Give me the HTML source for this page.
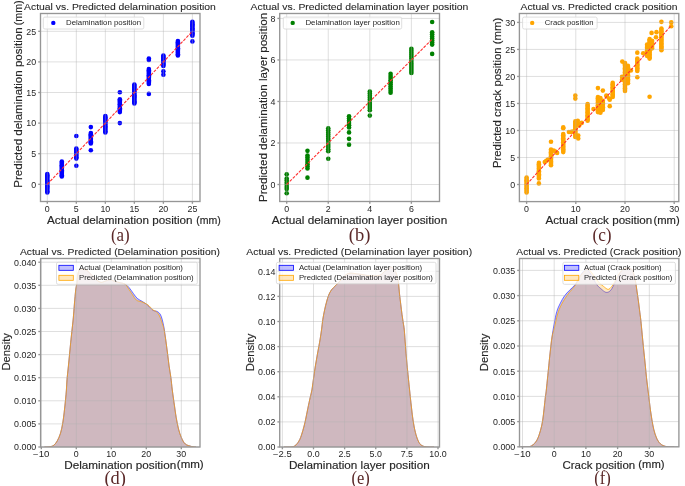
<!DOCTYPE html>
<html><head><meta charset="utf-8"><style>
html,body{margin:0;padding:0;background:#fff;width:685px;height:486px;overflow:hidden}
svg{display:block;will-change:transform}
text{font-family:"Liberation Sans",sans-serif;stroke:currentColor;stroke-width:0}
</style></head><body>
<svg width="685" height="486" viewBox="0 0 685 486">
<rect width="685" height="486" fill="#ffffff"/>
<g fill="#0000ff">
<circle cx="47.30" cy="192.50" r="2.3"/>
<circle cx="47.30" cy="191.27" r="2.3"/>
<circle cx="47.30" cy="190.04" r="2.3"/>
<circle cx="47.30" cy="188.80" r="2.3"/>
<circle cx="47.30" cy="187.57" r="2.3"/>
<circle cx="47.30" cy="186.34" r="2.3"/>
<circle cx="47.30" cy="185.11" r="2.3"/>
<circle cx="47.30" cy="183.88" r="2.3"/>
<circle cx="47.30" cy="182.64" r="2.3"/>
<circle cx="47.30" cy="181.41" r="2.3"/>
<circle cx="47.30" cy="180.18" r="2.3"/>
<circle cx="47.30" cy="178.95" r="2.3"/>
<circle cx="47.30" cy="177.71" r="2.3"/>
<circle cx="47.30" cy="176.48" r="2.3"/>
<circle cx="47.30" cy="175.25" r="2.3"/>
<circle cx="47.30" cy="174.02" r="2.3"/>
<circle cx="61.81" cy="176.53" r="2.3"/>
<circle cx="61.81" cy="175.28" r="2.3"/>
<circle cx="61.81" cy="174.03" r="2.3"/>
<circle cx="61.81" cy="172.78" r="2.3"/>
<circle cx="61.81" cy="171.53" r="2.3"/>
<circle cx="61.81" cy="170.28" r="2.3"/>
<circle cx="61.81" cy="169.03" r="2.3"/>
<circle cx="61.81" cy="167.78" r="2.3"/>
<circle cx="61.81" cy="166.53" r="2.3"/>
<circle cx="61.81" cy="165.28" r="2.3"/>
<circle cx="61.81" cy="164.03" r="2.3"/>
<circle cx="61.81" cy="162.78" r="2.3"/>
<circle cx="61.81" cy="161.53" r="2.3"/>
<circle cx="76.32" cy="158.60" r="2.3"/>
<circle cx="76.32" cy="157.33" r="2.3"/>
<circle cx="76.32" cy="156.07" r="2.3"/>
<circle cx="76.32" cy="154.81" r="2.3"/>
<circle cx="76.32" cy="153.55" r="2.3"/>
<circle cx="76.32" cy="152.28" r="2.3"/>
<circle cx="76.32" cy="151.02" r="2.3"/>
<circle cx="76.32" cy="149.76" r="2.3"/>
<circle cx="76.32" cy="148.50" r="2.3"/>
<circle cx="76.32" cy="135.95" r="2.3"/>
<circle cx="76.32" cy="165.70" r="2.3"/>
<circle cx="90.83" cy="143.48" r="2.3"/>
<circle cx="90.83" cy="142.32" r="2.3"/>
<circle cx="90.83" cy="141.15" r="2.3"/>
<circle cx="90.83" cy="139.99" r="2.3"/>
<circle cx="90.83" cy="138.83" r="2.3"/>
<circle cx="90.83" cy="137.67" r="2.3"/>
<circle cx="90.83" cy="136.50" r="2.3"/>
<circle cx="90.83" cy="135.34" r="2.3"/>
<circle cx="90.83" cy="134.18" r="2.3"/>
<circle cx="90.83" cy="133.01" r="2.3"/>
<circle cx="90.83" cy="127.08" r="2.3"/>
<circle cx="90.83" cy="150.21" r="2.3"/>
<circle cx="105.34" cy="132.52" r="2.3"/>
<circle cx="105.34" cy="131.25" r="2.3"/>
<circle cx="105.34" cy="129.98" r="2.3"/>
<circle cx="105.34" cy="128.71" r="2.3"/>
<circle cx="105.34" cy="127.44" r="2.3"/>
<circle cx="105.34" cy="126.17" r="2.3"/>
<circle cx="105.34" cy="124.90" r="2.3"/>
<circle cx="105.34" cy="123.63" r="2.3"/>
<circle cx="105.34" cy="122.36" r="2.3"/>
<circle cx="105.34" cy="121.09" r="2.3"/>
<circle cx="105.34" cy="119.81" r="2.3"/>
<circle cx="105.34" cy="118.54" r="2.3"/>
<circle cx="105.34" cy="117.27" r="2.3"/>
<circle cx="105.34" cy="116.00" r="2.3"/>
<circle cx="119.85" cy="112.08" r="2.3"/>
<circle cx="119.85" cy="110.80" r="2.3"/>
<circle cx="119.85" cy="109.51" r="2.3"/>
<circle cx="119.85" cy="108.23" r="2.3"/>
<circle cx="119.85" cy="106.94" r="2.3"/>
<circle cx="119.85" cy="105.66" r="2.3"/>
<circle cx="119.85" cy="104.37" r="2.3"/>
<circle cx="119.85" cy="103.09" r="2.3"/>
<circle cx="119.85" cy="101.80" r="2.3"/>
<circle cx="119.85" cy="100.52" r="2.3"/>
<circle cx="119.85" cy="99.23" r="2.3"/>
<circle cx="119.85" cy="92.19" r="2.3"/>
<circle cx="119.85" cy="123.10" r="2.3"/>
<circle cx="134.36" cy="103.52" r="2.3"/>
<circle cx="134.36" cy="102.33" r="2.3"/>
<circle cx="134.36" cy="101.14" r="2.3"/>
<circle cx="134.36" cy="99.96" r="2.3"/>
<circle cx="134.36" cy="98.77" r="2.3"/>
<circle cx="134.36" cy="97.59" r="2.3"/>
<circle cx="134.36" cy="96.40" r="2.3"/>
<circle cx="134.36" cy="95.22" r="2.3"/>
<circle cx="134.36" cy="94.03" r="2.3"/>
<circle cx="134.36" cy="92.84" r="2.3"/>
<circle cx="134.36" cy="91.66" r="2.3"/>
<circle cx="134.36" cy="90.47" r="2.3"/>
<circle cx="134.36" cy="89.29" r="2.3"/>
<circle cx="134.36" cy="88.10" r="2.3"/>
<circle cx="134.36" cy="86.92" r="2.3"/>
<circle cx="134.36" cy="85.73" r="2.3"/>
<circle cx="134.36" cy="84.54" r="2.3"/>
<circle cx="148.87" cy="83.99" r="2.3"/>
<circle cx="148.87" cy="82.74" r="2.3"/>
<circle cx="148.87" cy="81.49" r="2.3"/>
<circle cx="148.87" cy="80.24" r="2.3"/>
<circle cx="148.87" cy="79.00" r="2.3"/>
<circle cx="148.87" cy="77.75" r="2.3"/>
<circle cx="148.87" cy="76.50" r="2.3"/>
<circle cx="148.87" cy="75.25" r="2.3"/>
<circle cx="148.87" cy="74.00" r="2.3"/>
<circle cx="148.87" cy="72.75" r="2.3"/>
<circle cx="148.87" cy="71.50" r="2.3"/>
<circle cx="148.87" cy="70.25" r="2.3"/>
<circle cx="148.87" cy="69.00" r="2.3"/>
<circle cx="148.87" cy="58.53" r="2.3"/>
<circle cx="148.87" cy="60.06" r="2.3"/>
<circle cx="148.87" cy="93.91" r="2.3"/>
<circle cx="163.38" cy="66.00" r="2.3"/>
<circle cx="163.38" cy="64.83" r="2.3"/>
<circle cx="163.38" cy="63.66" r="2.3"/>
<circle cx="163.38" cy="62.49" r="2.3"/>
<circle cx="163.38" cy="61.32" r="2.3"/>
<circle cx="163.38" cy="60.15" r="2.3"/>
<circle cx="163.38" cy="58.98" r="2.3"/>
<circle cx="163.38" cy="57.81" r="2.3"/>
<circle cx="163.38" cy="56.64" r="2.3"/>
<circle cx="163.38" cy="55.47" r="2.3"/>
<circle cx="163.38" cy="71.32" r="2.3"/>
<circle cx="163.38" cy="74.75" r="2.3"/>
<circle cx="177.89" cy="55.47" r="2.3"/>
<circle cx="177.89" cy="54.28" r="2.3"/>
<circle cx="177.89" cy="53.08" r="2.3"/>
<circle cx="177.89" cy="51.88" r="2.3"/>
<circle cx="177.89" cy="50.68" r="2.3"/>
<circle cx="177.89" cy="49.48" r="2.3"/>
<circle cx="177.89" cy="48.28" r="2.3"/>
<circle cx="177.89" cy="47.08" r="2.3"/>
<circle cx="177.89" cy="45.89" r="2.3"/>
<circle cx="177.89" cy="44.69" r="2.3"/>
<circle cx="177.89" cy="43.49" r="2.3"/>
<circle cx="177.89" cy="42.29" r="2.3"/>
<circle cx="177.89" cy="41.09" r="2.3"/>
<circle cx="192.40" cy="35.71" r="2.3"/>
<circle cx="192.40" cy="34.44" r="2.3"/>
<circle cx="192.40" cy="33.18" r="2.3"/>
<circle cx="192.40" cy="31.92" r="2.3"/>
<circle cx="192.40" cy="30.65" r="2.3"/>
<circle cx="192.40" cy="29.39" r="2.3"/>
<circle cx="192.40" cy="28.13" r="2.3"/>
<circle cx="192.40" cy="26.87" r="2.3"/>
<circle cx="192.40" cy="25.60" r="2.3"/>
<circle cx="192.40" cy="24.34" r="2.3"/>
<circle cx="192.40" cy="23.08" r="2.3"/>
<circle cx="192.40" cy="21.81" r="2.3"/>
<circle cx="192.40" cy="41.40" r="2.3"/>
</g>
<g stroke="#b0b0b0" stroke-opacity="0.45" stroke-width="0.9">
<line x1="47.30" y1="13.5" x2="47.30" y2="201.5"/>
<line x1="76.32" y1="13.5" x2="76.32" y2="201.5"/>
<line x1="105.34" y1="13.5" x2="105.34" y2="201.5"/>
<line x1="134.36" y1="13.5" x2="134.36" y2="201.5"/>
<line x1="163.38" y1="13.5" x2="163.38" y2="201.5"/>
<line x1="192.40" y1="13.5" x2="192.40" y2="201.5"/>
<line x1="40.5" y1="184.30" x2="200.0" y2="184.30"/>
<line x1="40.5" y1="153.70" x2="200.0" y2="153.70"/>
<line x1="40.5" y1="123.10" x2="200.0" y2="123.10"/>
<line x1="40.5" y1="92.50" x2="200.0" y2="92.50"/>
<line x1="40.5" y1="61.90" x2="200.0" y2="61.90"/>
<line x1="40.5" y1="31.30" x2="200.0" y2="31.30"/>
</g>
<line x1="47.30" y1="184.30" x2="192.40" y2="31.30" stroke="#ff3030" stroke-width="1.1" stroke-dasharray="3.0 1.3"/>
<rect x="40.5" y="13.5" width="159.50" height="188.00" fill="none" stroke="#969696" stroke-width="1.35"/>
<g stroke="#969696" stroke-width="1.35">
<line x1="47.30" y1="201.5" x2="47.30" y2="203.80"/>
<line x1="76.32" y1="201.5" x2="76.32" y2="203.80"/>
<line x1="105.34" y1="201.5" x2="105.34" y2="203.80"/>
<line x1="134.36" y1="201.5" x2="134.36" y2="203.80"/>
<line x1="163.38" y1="201.5" x2="163.38" y2="203.80"/>
<line x1="192.40" y1="201.5" x2="192.40" y2="203.80"/>
<line x1="40.5" y1="184.30" x2="38.20" y2="184.30"/>
<line x1="40.5" y1="153.70" x2="38.20" y2="153.70"/>
<line x1="40.5" y1="123.10" x2="38.20" y2="123.10"/>
<line x1="40.5" y1="92.50" x2="38.20" y2="92.50"/>
<line x1="40.5" y1="61.90" x2="38.20" y2="61.90"/>
<line x1="40.5" y1="31.30" x2="38.20" y2="31.30"/>
</g>
<text x="47.30" y="211.80" font-size="8.14" text-anchor="middle" fill="#262626" color="#262626" textLength="4.93" lengthAdjust="spacingAndGlyphs">0</text>
<text x="76.32" y="211.80" font-size="8.14" text-anchor="middle" fill="#262626" color="#262626" textLength="4.93" lengthAdjust="spacingAndGlyphs">5</text>
<text x="105.34" y="211.80" font-size="8.14" text-anchor="middle" fill="#262626" color="#262626" textLength="9.86" lengthAdjust="spacingAndGlyphs">10</text>
<text x="134.36" y="211.80" font-size="8.14" text-anchor="middle" fill="#262626" color="#262626" textLength="9.86" lengthAdjust="spacingAndGlyphs">15</text>
<text x="163.38" y="211.80" font-size="8.14" text-anchor="middle" fill="#262626" color="#262626" textLength="9.86" lengthAdjust="spacingAndGlyphs">20</text>
<text x="192.40" y="211.80" font-size="8.14" text-anchor="middle" fill="#262626" color="#262626" textLength="9.86" lengthAdjust="spacingAndGlyphs">25</text>
<text x="36.20" y="187.60" font-size="8.14" text-anchor="end" fill="#262626" color="#262626" textLength="4.93" lengthAdjust="spacingAndGlyphs">0</text>
<text x="36.20" y="157.00" font-size="8.14" text-anchor="end" fill="#262626" color="#262626" textLength="4.93" lengthAdjust="spacingAndGlyphs">5</text>
<text x="36.20" y="126.40" font-size="8.14" text-anchor="end" fill="#262626" color="#262626" textLength="9.86" lengthAdjust="spacingAndGlyphs">10</text>
<text x="36.20" y="95.80" font-size="8.14" text-anchor="end" fill="#262626" color="#262626" textLength="9.86" lengthAdjust="spacingAndGlyphs">15</text>
<text x="36.20" y="65.20" font-size="8.14" text-anchor="end" fill="#262626" color="#262626" textLength="9.86" lengthAdjust="spacingAndGlyphs">20</text>
<text x="36.20" y="34.60" font-size="8.14" text-anchor="end" fill="#262626" color="#262626" textLength="9.86" lengthAdjust="spacingAndGlyphs">25</text>
<g fill="#008000">
<circle cx="286.70" cy="189.07" r="2.3"/>
<circle cx="286.70" cy="186.95" r="2.3"/>
<circle cx="286.70" cy="184.83" r="2.3"/>
<circle cx="286.70" cy="182.71" r="2.3"/>
<circle cx="286.70" cy="180.60" r="2.3"/>
<circle cx="286.70" cy="178.48" r="2.3"/>
<circle cx="286.70" cy="174.33" r="2.3"/>
<circle cx="286.70" cy="193.22" r="2.3"/>
<circle cx="307.48" cy="168.51" r="2.3"/>
<circle cx="307.48" cy="166.34" r="2.3"/>
<circle cx="307.48" cy="164.16" r="2.3"/>
<circle cx="307.48" cy="161.98" r="2.3"/>
<circle cx="307.48" cy="159.80" r="2.3"/>
<circle cx="307.48" cy="157.62" r="2.3"/>
<circle cx="307.48" cy="155.44" r="2.3"/>
<circle cx="307.48" cy="150.87" r="2.3"/>
<circle cx="307.48" cy="177.65" r="2.3"/>
<circle cx="328.26" cy="151.28" r="2.3"/>
<circle cx="328.26" cy="149.19" r="2.3"/>
<circle cx="328.26" cy="147.09" r="2.3"/>
<circle cx="328.26" cy="145.00" r="2.3"/>
<circle cx="328.26" cy="142.90" r="2.3"/>
<circle cx="328.26" cy="140.81" r="2.3"/>
<circle cx="328.26" cy="138.71" r="2.3"/>
<circle cx="328.26" cy="136.62" r="2.3"/>
<circle cx="328.26" cy="134.53" r="2.3"/>
<circle cx="328.26" cy="132.43" r="2.3"/>
<circle cx="328.26" cy="130.34" r="2.3"/>
<circle cx="328.26" cy="128.24" r="2.3"/>
<circle cx="328.26" cy="158.76" r="2.3"/>
<circle cx="349.04" cy="127.41" r="2.3"/>
<circle cx="349.04" cy="125.17" r="2.3"/>
<circle cx="349.04" cy="122.93" r="2.3"/>
<circle cx="349.04" cy="120.68" r="2.3"/>
<circle cx="349.04" cy="118.44" r="2.3"/>
<circle cx="349.04" cy="116.20" r="2.3"/>
<circle cx="349.04" cy="132.39" r="2.3"/>
<circle cx="349.04" cy="138.83" r="2.3"/>
<circle cx="349.04" cy="144.64" r="2.3"/>
<circle cx="369.82" cy="110.18" r="2.3"/>
<circle cx="369.82" cy="108.10" r="2.3"/>
<circle cx="369.82" cy="106.03" r="2.3"/>
<circle cx="369.82" cy="103.95" r="2.3"/>
<circle cx="369.82" cy="101.88" r="2.3"/>
<circle cx="369.82" cy="99.80" r="2.3"/>
<circle cx="369.82" cy="97.72" r="2.3"/>
<circle cx="369.82" cy="95.65" r="2.3"/>
<circle cx="369.82" cy="93.57" r="2.3"/>
<circle cx="369.82" cy="91.50" r="2.3"/>
<circle cx="369.82" cy="115.58" r="2.3"/>
<circle cx="390.60" cy="92.74" r="2.3"/>
<circle cx="390.60" cy="90.64" r="2.3"/>
<circle cx="390.60" cy="88.54" r="2.3"/>
<circle cx="390.60" cy="86.44" r="2.3"/>
<circle cx="390.60" cy="84.34" r="2.3"/>
<circle cx="390.60" cy="82.25" r="2.3"/>
<circle cx="390.60" cy="80.15" r="2.3"/>
<circle cx="390.60" cy="78.05" r="2.3"/>
<circle cx="390.60" cy="75.95" r="2.3"/>
<circle cx="390.60" cy="73.85" r="2.3"/>
<circle cx="411.38" cy="73.02" r="2.3"/>
<circle cx="411.38" cy="70.99" r="2.3"/>
<circle cx="411.38" cy="68.97" r="2.3"/>
<circle cx="411.38" cy="66.95" r="2.3"/>
<circle cx="411.38" cy="64.92" r="2.3"/>
<circle cx="411.38" cy="62.90" r="2.3"/>
<circle cx="411.38" cy="60.87" r="2.3"/>
<circle cx="411.38" cy="58.85" r="2.3"/>
<circle cx="411.38" cy="56.83" r="2.3"/>
<circle cx="411.38" cy="54.80" r="2.3"/>
<circle cx="411.38" cy="52.78" r="2.3"/>
<circle cx="411.38" cy="50.75" r="2.3"/>
<circle cx="411.38" cy="48.73" r="2.3"/>
<circle cx="432.16" cy="44.58" r="2.3"/>
<circle cx="432.16" cy="42.54" r="2.3"/>
<circle cx="432.16" cy="40.49" r="2.3"/>
<circle cx="432.16" cy="38.45" r="2.3"/>
<circle cx="432.16" cy="36.41" r="2.3"/>
<circle cx="432.16" cy="34.37" r="2.3"/>
<circle cx="432.16" cy="32.33" r="2.3"/>
<circle cx="432.16" cy="21.95" r="2.3"/>
<circle cx="432.16" cy="53.92" r="2.3"/>
</g>
<g stroke="#b0b0b0" stroke-opacity="0.45" stroke-width="0.9">
<line x1="286.70" y1="13.5" x2="286.70" y2="201.5"/>
<line x1="328.26" y1="13.5" x2="328.26" y2="201.5"/>
<line x1="369.82" y1="13.5" x2="369.82" y2="201.5"/>
<line x1="411.38" y1="13.5" x2="411.38" y2="201.5"/>
<line x1="279.7" y1="184.50" x2="439.5" y2="184.50"/>
<line x1="279.7" y1="142.98" x2="439.5" y2="142.98"/>
<line x1="279.7" y1="101.46" x2="439.5" y2="101.46"/>
<line x1="279.7" y1="59.94" x2="439.5" y2="59.94"/>
<line x1="279.7" y1="18.42" x2="439.5" y2="18.42"/>
</g>
<line x1="286.70" y1="184.50" x2="432.16" y2="39.18" stroke="#ff3030" stroke-width="1.1" stroke-dasharray="3.0 1.3"/>
<rect x="279.7" y="13.5" width="159.80" height="188.00" fill="none" stroke="#969696" stroke-width="1.35"/>
<g stroke="#969696" stroke-width="1.35">
<line x1="286.70" y1="201.5" x2="286.70" y2="203.80"/>
<line x1="328.26" y1="201.5" x2="328.26" y2="203.80"/>
<line x1="369.82" y1="201.5" x2="369.82" y2="203.80"/>
<line x1="411.38" y1="201.5" x2="411.38" y2="203.80"/>
<line x1="279.7" y1="184.50" x2="277.40" y2="184.50"/>
<line x1="279.7" y1="142.98" x2="277.40" y2="142.98"/>
<line x1="279.7" y1="101.46" x2="277.40" y2="101.46"/>
<line x1="279.7" y1="59.94" x2="277.40" y2="59.94"/>
<line x1="279.7" y1="18.42" x2="277.40" y2="18.42"/>
</g>
<text x="286.70" y="211.80" font-size="8.14" text-anchor="middle" fill="#262626" color="#262626" textLength="4.93" lengthAdjust="spacingAndGlyphs">0</text>
<text x="328.26" y="211.80" font-size="8.14" text-anchor="middle" fill="#262626" color="#262626" textLength="4.93" lengthAdjust="spacingAndGlyphs">2</text>
<text x="369.82" y="211.80" font-size="8.14" text-anchor="middle" fill="#262626" color="#262626" textLength="4.93" lengthAdjust="spacingAndGlyphs">4</text>
<text x="411.38" y="211.80" font-size="8.14" text-anchor="middle" fill="#262626" color="#262626" textLength="4.93" lengthAdjust="spacingAndGlyphs">6</text>
<text x="275.40" y="187.80" font-size="8.14" text-anchor="end" fill="#262626" color="#262626" textLength="4.93" lengthAdjust="spacingAndGlyphs">0</text>
<text x="275.40" y="146.28" font-size="8.14" text-anchor="end" fill="#262626" color="#262626" textLength="4.93" lengthAdjust="spacingAndGlyphs">2</text>
<text x="275.40" y="104.76" font-size="8.14" text-anchor="end" fill="#262626" color="#262626" textLength="4.93" lengthAdjust="spacingAndGlyphs">4</text>
<text x="275.40" y="63.24" font-size="8.14" text-anchor="end" fill="#262626" color="#262626" textLength="4.93" lengthAdjust="spacingAndGlyphs">6</text>
<text x="275.40" y="21.72" font-size="8.14" text-anchor="end" fill="#262626" color="#262626" textLength="4.93" lengthAdjust="spacingAndGlyphs">8</text>
<g fill="#ffa500">
<circle cx="526.60" cy="192.39" r="2.3"/>
<circle cx="526.60" cy="191.04" r="2.3"/>
<circle cx="526.60" cy="189.70" r="2.3"/>
<circle cx="526.60" cy="188.35" r="2.3"/>
<circle cx="526.60" cy="187.01" r="2.3"/>
<circle cx="526.60" cy="185.66" r="2.3"/>
<circle cx="526.60" cy="184.31" r="2.3"/>
<circle cx="526.60" cy="182.97" r="2.3"/>
<circle cx="526.60" cy="181.62" r="2.3"/>
<circle cx="526.60" cy="180.28" r="2.3"/>
<circle cx="526.60" cy="178.93" r="2.3"/>
<circle cx="526.60" cy="177.58" r="2.3"/>
<circle cx="538.90" cy="178.39" r="2.3"/>
<circle cx="538.90" cy="176.98" r="2.3"/>
<circle cx="538.90" cy="175.58" r="2.3"/>
<circle cx="538.90" cy="174.17" r="2.3"/>
<circle cx="538.90" cy="172.76" r="2.3"/>
<circle cx="538.90" cy="171.35" r="2.3"/>
<circle cx="538.90" cy="169.94" r="2.3"/>
<circle cx="538.90" cy="168.53" r="2.3"/>
<circle cx="538.90" cy="167.12" r="2.3"/>
<circle cx="538.90" cy="165.71" r="2.3"/>
<circle cx="538.90" cy="164.30" r="2.3"/>
<circle cx="538.90" cy="162.89" r="2.3"/>
<circle cx="538.90" cy="183.42" r="2.3"/>
<circle cx="544.80" cy="162.02" r="2.3"/>
<circle cx="548.00" cy="159.48" r="2.3"/>
<circle cx="546.28" cy="160.73" r="2.3"/>
<circle cx="551.00" cy="165.32" r="2.3"/>
<circle cx="551.00" cy="164.01" r="2.3"/>
<circle cx="551.00" cy="162.70" r="2.3"/>
<circle cx="551.00" cy="161.39" r="2.3"/>
<circle cx="551.00" cy="160.08" r="2.3"/>
<circle cx="551.00" cy="158.77" r="2.3"/>
<circle cx="551.00" cy="157.46" r="2.3"/>
<circle cx="551.00" cy="156.15" r="2.3"/>
<circle cx="551.00" cy="154.84" r="2.3"/>
<circle cx="551.00" cy="153.53" r="2.3"/>
<circle cx="551.00" cy="152.22" r="2.3"/>
<circle cx="551.00" cy="150.91" r="2.3"/>
<circle cx="551.00" cy="149.60" r="2.3"/>
<circle cx="551.00" cy="141.71" r="2.3"/>
<circle cx="553.66" cy="150.46" r="2.3"/>
<circle cx="555.38" cy="151.54" r="2.3"/>
<circle cx="557.10" cy="152.89" r="2.3"/>
<circle cx="563.25" cy="152.08" r="2.3"/>
<circle cx="563.25" cy="150.69" r="2.3"/>
<circle cx="563.25" cy="149.30" r="2.3"/>
<circle cx="563.25" cy="147.91" r="2.3"/>
<circle cx="563.25" cy="146.51" r="2.3"/>
<circle cx="563.25" cy="145.12" r="2.3"/>
<circle cx="563.25" cy="143.73" r="2.3"/>
<circle cx="563.25" cy="142.34" r="2.3"/>
<circle cx="563.25" cy="140.94" r="2.3"/>
<circle cx="563.25" cy="139.55" r="2.3"/>
<circle cx="563.25" cy="138.16" r="2.3"/>
<circle cx="563.25" cy="136.77" r="2.3"/>
<circle cx="563.25" cy="135.37" r="2.3"/>
<circle cx="563.25" cy="133.98" r="2.3"/>
<circle cx="563.25" cy="127.39" r="2.3"/>
<circle cx="563.25" cy="128.31" r="2.3"/>
<circle cx="568.91" cy="131.93" r="2.3"/>
<circle cx="570.88" cy="131.93" r="2.3"/>
<circle cx="572.36" cy="131.55" r="2.3"/>
<circle cx="575.31" cy="136.95" r="2.3"/>
<circle cx="575.31" cy="135.66" r="2.3"/>
<circle cx="575.31" cy="134.36" r="2.3"/>
<circle cx="575.31" cy="133.06" r="2.3"/>
<circle cx="575.31" cy="131.77" r="2.3"/>
<circle cx="575.31" cy="130.47" r="2.3"/>
<circle cx="575.31" cy="129.17" r="2.3"/>
<circle cx="575.31" cy="127.88" r="2.3"/>
<circle cx="575.31" cy="126.58" r="2.3"/>
<circle cx="575.31" cy="125.28" r="2.3"/>
<circle cx="575.31" cy="123.99" r="2.3"/>
<circle cx="575.31" cy="122.69" r="2.3"/>
<circle cx="575.31" cy="121.39" r="2.3"/>
<circle cx="577.77" cy="120.74" r="2.3"/>
<circle cx="578.75" cy="123.45" r="2.3"/>
<circle cx="579.24" cy="125.61" r="2.3"/>
<circle cx="578.26" cy="135.60" r="2.3"/>
<circle cx="578.26" cy="138.57" r="2.3"/>
<circle cx="581.70" cy="122.91" r="2.3"/>
<circle cx="575.31" cy="95.51" r="2.3"/>
<circle cx="575.31" cy="98.59" r="2.3"/>
<circle cx="587.61" cy="120.74" r="2.3"/>
<circle cx="587.61" cy="119.35" r="2.3"/>
<circle cx="587.61" cy="117.95" r="2.3"/>
<circle cx="587.61" cy="116.56" r="2.3"/>
<circle cx="587.61" cy="115.16" r="2.3"/>
<circle cx="587.61" cy="113.77" r="2.3"/>
<circle cx="587.61" cy="112.37" r="2.3"/>
<circle cx="587.61" cy="110.97" r="2.3"/>
<circle cx="587.61" cy="109.58" r="2.3"/>
<circle cx="587.61" cy="108.18" r="2.3"/>
<circle cx="587.61" cy="106.79" r="2.3"/>
<circle cx="587.61" cy="105.39" r="2.3"/>
<circle cx="587.61" cy="104.00" r="2.3"/>
<circle cx="593.51" cy="109.07" r="2.3"/>
<circle cx="597.94" cy="112.10" r="2.3"/>
<circle cx="597.94" cy="110.72" r="2.3"/>
<circle cx="597.94" cy="109.35" r="2.3"/>
<circle cx="597.94" cy="107.97" r="2.3"/>
<circle cx="597.94" cy="106.60" r="2.3"/>
<circle cx="597.94" cy="105.22" r="2.3"/>
<circle cx="597.94" cy="103.85" r="2.3"/>
<circle cx="597.94" cy="102.47" r="2.3"/>
<circle cx="597.94" cy="101.10" r="2.3"/>
<circle cx="597.94" cy="99.72" r="2.3"/>
<circle cx="597.94" cy="98.35" r="2.3"/>
<circle cx="597.94" cy="96.97" r="2.3"/>
<circle cx="600.40" cy="112.64" r="2.3"/>
<circle cx="600.40" cy="111.31" r="2.3"/>
<circle cx="600.40" cy="109.99" r="2.3"/>
<circle cx="600.40" cy="108.66" r="2.3"/>
<circle cx="600.40" cy="107.34" r="2.3"/>
<circle cx="600.40" cy="106.01" r="2.3"/>
<circle cx="600.40" cy="104.68" r="2.3"/>
<circle cx="600.40" cy="103.36" r="2.3"/>
<circle cx="600.40" cy="102.03" r="2.3"/>
<circle cx="600.40" cy="100.70" r="2.3"/>
<circle cx="600.40" cy="99.38" r="2.3"/>
<circle cx="600.40" cy="98.05" r="2.3"/>
<circle cx="602.86" cy="109.94" r="2.3"/>
<circle cx="602.86" cy="108.63" r="2.3"/>
<circle cx="602.86" cy="107.31" r="2.3"/>
<circle cx="602.86" cy="106.00" r="2.3"/>
<circle cx="602.86" cy="104.69" r="2.3"/>
<circle cx="602.86" cy="103.38" r="2.3"/>
<circle cx="602.86" cy="102.07" r="2.3"/>
<circle cx="602.86" cy="100.75" r="2.3"/>
<circle cx="597.94" cy="88.11" r="2.3"/>
<circle cx="602.86" cy="90.60" r="2.3"/>
<circle cx="606.30" cy="95.51" r="2.3"/>
<circle cx="606.80" cy="96.43" r="2.3"/>
<circle cx="609.26" cy="98.59" r="2.3"/>
<circle cx="609.75" cy="99.67" r="2.3"/>
<circle cx="609.75" cy="106.16" r="2.3"/>
<circle cx="612.70" cy="96.97" r="2.3"/>
<circle cx="612.70" cy="95.57" r="2.3"/>
<circle cx="612.70" cy="94.16" r="2.3"/>
<circle cx="612.70" cy="92.76" r="2.3"/>
<circle cx="612.70" cy="91.35" r="2.3"/>
<circle cx="612.70" cy="89.95" r="2.3"/>
<circle cx="612.70" cy="88.54" r="2.3"/>
<circle cx="612.70" cy="87.14" r="2.3"/>
<circle cx="612.70" cy="85.73" r="2.3"/>
<circle cx="612.70" cy="84.33" r="2.3"/>
<circle cx="612.70" cy="82.92" r="2.3"/>
<circle cx="622.29" cy="61.58" r="2.3"/>
<circle cx="622.05" cy="79.68" r="2.3"/>
<circle cx="622.05" cy="76.71" r="2.3"/>
<circle cx="625.00" cy="91.03" r="2.3"/>
<circle cx="625.00" cy="89.69" r="2.3"/>
<circle cx="625.00" cy="88.35" r="2.3"/>
<circle cx="625.00" cy="87.01" r="2.3"/>
<circle cx="625.00" cy="85.68" r="2.3"/>
<circle cx="625.00" cy="84.34" r="2.3"/>
<circle cx="625.00" cy="83.00" r="2.3"/>
<circle cx="625.00" cy="81.66" r="2.3"/>
<circle cx="625.00" cy="80.33" r="2.3"/>
<circle cx="625.00" cy="78.99" r="2.3"/>
<circle cx="625.00" cy="77.65" r="2.3"/>
<circle cx="625.00" cy="76.31" r="2.3"/>
<circle cx="625.00" cy="74.97" r="2.3"/>
<circle cx="625.00" cy="73.64" r="2.3"/>
<circle cx="625.00" cy="72.30" r="2.3"/>
<circle cx="625.00" cy="70.96" r="2.3"/>
<circle cx="625.00" cy="69.62" r="2.3"/>
<circle cx="625.00" cy="68.28" r="2.3"/>
<circle cx="625.00" cy="66.95" r="2.3"/>
<circle cx="625.00" cy="65.61" r="2.3"/>
<circle cx="625.00" cy="64.27" r="2.3"/>
<circle cx="625.00" cy="62.93" r="2.3"/>
<circle cx="627.95" cy="83.19" r="2.3"/>
<circle cx="627.95" cy="81.86" r="2.3"/>
<circle cx="627.95" cy="80.53" r="2.3"/>
<circle cx="627.95" cy="79.20" r="2.3"/>
<circle cx="627.95" cy="77.87" r="2.3"/>
<circle cx="627.95" cy="76.54" r="2.3"/>
<circle cx="627.95" cy="75.21" r="2.3"/>
<circle cx="627.95" cy="73.88" r="2.3"/>
<circle cx="627.95" cy="72.55" r="2.3"/>
<circle cx="627.95" cy="71.22" r="2.3"/>
<circle cx="627.95" cy="69.89" r="2.3"/>
<circle cx="627.95" cy="68.56" r="2.3"/>
<circle cx="627.95" cy="67.23" r="2.3"/>
<circle cx="627.95" cy="65.90" r="2.3"/>
<circle cx="630.90" cy="70.50" r="2.3"/>
<circle cx="637.30" cy="71.04" r="2.3"/>
<circle cx="637.30" cy="69.66" r="2.3"/>
<circle cx="637.30" cy="68.28" r="2.3"/>
<circle cx="637.30" cy="66.89" r="2.3"/>
<circle cx="637.30" cy="65.51" r="2.3"/>
<circle cx="637.30" cy="64.13" r="2.3"/>
<circle cx="637.30" cy="62.75" r="2.3"/>
<circle cx="637.30" cy="61.37" r="2.3"/>
<circle cx="637.30" cy="59.99" r="2.3"/>
<circle cx="637.30" cy="58.61" r="2.3"/>
<circle cx="637.30" cy="52.67" r="2.3"/>
<circle cx="637.30" cy="77.20" r="2.3"/>
<circle cx="643.20" cy="53.21" r="2.3"/>
<circle cx="647.14" cy="55.91" r="2.3"/>
<circle cx="647.14" cy="54.49" r="2.3"/>
<circle cx="647.14" cy="53.07" r="2.3"/>
<circle cx="647.14" cy="51.65" r="2.3"/>
<circle cx="647.14" cy="50.24" r="2.3"/>
<circle cx="647.14" cy="48.82" r="2.3"/>
<circle cx="647.14" cy="47.40" r="2.3"/>
<circle cx="647.14" cy="45.98" r="2.3"/>
<circle cx="647.14" cy="44.56" r="2.3"/>
<circle cx="649.60" cy="58.61" r="2.3"/>
<circle cx="649.60" cy="57.22" r="2.3"/>
<circle cx="649.60" cy="55.83" r="2.3"/>
<circle cx="649.60" cy="54.44" r="2.3"/>
<circle cx="649.60" cy="53.05" r="2.3"/>
<circle cx="649.60" cy="51.66" r="2.3"/>
<circle cx="649.60" cy="50.27" r="2.3"/>
<circle cx="649.60" cy="48.88" r="2.3"/>
<circle cx="649.60" cy="47.50" r="2.3"/>
<circle cx="649.60" cy="46.11" r="2.3"/>
<circle cx="649.60" cy="44.72" r="2.3"/>
<circle cx="649.60" cy="43.33" r="2.3"/>
<circle cx="649.60" cy="41.94" r="2.3"/>
<circle cx="649.60" cy="40.55" r="2.3"/>
<circle cx="649.60" cy="39.16" r="2.3"/>
<circle cx="652.06" cy="48.34" r="2.3"/>
<circle cx="652.06" cy="47.08" r="2.3"/>
<circle cx="652.06" cy="45.82" r="2.3"/>
<circle cx="652.06" cy="44.56" r="2.3"/>
<circle cx="652.06" cy="43.30" r="2.3"/>
<circle cx="652.06" cy="42.04" r="2.3"/>
<circle cx="652.06" cy="40.78" r="2.3"/>
<circle cx="651.57" cy="32.89" r="2.3"/>
<circle cx="656.49" cy="32.14" r="2.3"/>
<circle cx="656.00" cy="37.21" r="2.3"/>
<circle cx="649.60" cy="96.70" r="2.3"/>
<circle cx="661.41" cy="50.18" r="2.3"/>
<circle cx="661.41" cy="48.83" r="2.3"/>
<circle cx="661.41" cy="47.49" r="2.3"/>
<circle cx="661.41" cy="46.14" r="2.3"/>
<circle cx="661.41" cy="44.79" r="2.3"/>
<circle cx="661.41" cy="43.44" r="2.3"/>
<circle cx="661.41" cy="42.10" r="2.3"/>
<circle cx="661.41" cy="40.75" r="2.3"/>
<circle cx="661.41" cy="39.40" r="2.3"/>
<circle cx="661.41" cy="38.06" r="2.3"/>
<circle cx="661.41" cy="36.71" r="2.3"/>
<circle cx="661.41" cy="35.36" r="2.3"/>
<circle cx="661.41" cy="34.01" r="2.3"/>
<circle cx="661.41" cy="32.67" r="2.3"/>
<circle cx="661.41" cy="31.32" r="2.3"/>
<circle cx="661.41" cy="29.97" r="2.3"/>
<circle cx="661.41" cy="28.62" r="2.3"/>
<circle cx="661.41" cy="21.87" r="2.3"/>
<circle cx="671.25" cy="22.41" r="2.3"/>
<circle cx="671.25" cy="26.19" r="2.3"/>
</g>
<g stroke="#b0b0b0" stroke-opacity="0.45" stroke-width="0.9">
<line x1="526.60" y1="13.5" x2="526.60" y2="201.6"/>
<line x1="575.80" y1="13.5" x2="575.80" y2="201.6"/>
<line x1="625.00" y1="13.5" x2="625.00" y2="201.6"/>
<line x1="674.20" y1="13.5" x2="674.20" y2="201.6"/>
<line x1="519.4" y1="184.50" x2="678.8" y2="184.50"/>
<line x1="519.4" y1="157.49" x2="678.8" y2="157.49"/>
<line x1="519.4" y1="130.47" x2="678.8" y2="130.47"/>
<line x1="519.4" y1="103.46" x2="678.8" y2="103.46"/>
<line x1="519.4" y1="76.44" x2="678.8" y2="76.44"/>
<line x1="519.4" y1="49.43" x2="678.8" y2="49.43"/>
<line x1="519.4" y1="22.41" x2="678.8" y2="22.41"/>
</g>
<line x1="526.60" y1="184.50" x2="671.25" y2="25.65" stroke="#ff3030" stroke-width="1.1" stroke-dasharray="3.0 1.3"/>
<rect x="519.4" y="13.5" width="159.40" height="188.10" fill="none" stroke="#969696" stroke-width="1.35"/>
<g stroke="#969696" stroke-width="1.35">
<line x1="526.60" y1="201.6" x2="526.60" y2="203.90"/>
<line x1="575.80" y1="201.6" x2="575.80" y2="203.90"/>
<line x1="625.00" y1="201.6" x2="625.00" y2="203.90"/>
<line x1="674.20" y1="201.6" x2="674.20" y2="203.90"/>
<line x1="519.4" y1="184.50" x2="517.10" y2="184.50"/>
<line x1="519.4" y1="157.49" x2="517.10" y2="157.49"/>
<line x1="519.4" y1="130.47" x2="517.10" y2="130.47"/>
<line x1="519.4" y1="103.46" x2="517.10" y2="103.46"/>
<line x1="519.4" y1="76.44" x2="517.10" y2="76.44"/>
<line x1="519.4" y1="49.43" x2="517.10" y2="49.43"/>
<line x1="519.4" y1="22.41" x2="517.10" y2="22.41"/>
</g>
<text x="526.60" y="211.90" font-size="8.14" text-anchor="middle" fill="#262626" color="#262626" textLength="4.93" lengthAdjust="spacingAndGlyphs">0</text>
<text x="575.80" y="211.90" font-size="8.14" text-anchor="middle" fill="#262626" color="#262626" textLength="9.86" lengthAdjust="spacingAndGlyphs">10</text>
<text x="625.00" y="211.90" font-size="8.14" text-anchor="middle" fill="#262626" color="#262626" textLength="9.86" lengthAdjust="spacingAndGlyphs">20</text>
<text x="674.20" y="211.90" font-size="8.14" text-anchor="middle" fill="#262626" color="#262626" textLength="9.86" lengthAdjust="spacingAndGlyphs">30</text>
<text x="515.10" y="187.80" font-size="8.14" text-anchor="end" fill="#262626" color="#262626" textLength="4.93" lengthAdjust="spacingAndGlyphs">0</text>
<text x="515.10" y="160.79" font-size="8.14" text-anchor="end" fill="#262626" color="#262626" textLength="4.93" lengthAdjust="spacingAndGlyphs">5</text>
<text x="515.10" y="133.77" font-size="8.14" text-anchor="end" fill="#262626" color="#262626" textLength="9.86" lengthAdjust="spacingAndGlyphs">10</text>
<text x="515.10" y="106.76" font-size="8.14" text-anchor="end" fill="#262626" color="#262626" textLength="9.86" lengthAdjust="spacingAndGlyphs">15</text>
<text x="515.10" y="79.74" font-size="8.14" text-anchor="end" fill="#262626" color="#262626" textLength="9.86" lengthAdjust="spacingAndGlyphs">20</text>
<text x="515.10" y="52.73" font-size="8.14" text-anchor="end" fill="#262626" color="#262626" textLength="9.86" lengthAdjust="spacingAndGlyphs">25</text>
<text x="515.10" y="25.71" font-size="8.14" text-anchor="end" fill="#262626" color="#262626" textLength="9.86" lengthAdjust="spacingAndGlyphs">30</text>
<clipPath id="cp139905501012784"><rect x="40.6" y="258.5" width="159.40" height="188.50"/></clipPath>
<g clip-path="url(#cp139905501012784)">
<path d="M44.50,447.00 C45.32,446.97 47.87,447.08 49.40,446.80 C50.93,446.52 52.37,446.33 53.70,445.30 C55.03,444.27 56.27,442.62 57.40,440.60 C58.53,438.58 59.62,436.08 60.50,433.20 C61.38,430.32 62.08,426.80 62.70,423.30 C63.32,419.80 63.73,416.10 64.20,412.20 C64.67,408.30 65.13,403.60 65.50,399.90 C65.87,396.20 66.15,393.42 66.40,390.00 C66.65,386.58 66.68,383.23 67.00,379.40 C67.32,375.57 67.88,371.12 68.30,367.00 C68.72,362.88 69.10,358.82 69.50,354.70 C69.90,350.58 70.28,346.42 70.70,342.30 C71.12,338.18 71.57,334.05 72.00,330.00 C72.43,325.95 72.90,322.33 73.30,318.00 C73.70,313.67 74.00,308.67 74.40,304.00 C74.80,299.33 75.30,293.38 75.70,290.00 C76.10,286.62 76.50,286.03 76.80,283.70 C77.10,281.37 77.15,278.22 77.50,276.00 C77.85,273.78 78.43,271.57 78.90,270.40 C79.37,269.23 79.53,269.17 80.30,269.00 C81.07,268.83 82.37,269.15 83.50,269.40 C84.63,269.65 85.77,269.58 87.10,270.50 C88.43,271.42 89.88,273.30 91.50,274.90 C93.12,276.50 95.20,278.87 96.80,280.10 C98.40,281.33 99.65,282.15 101.10,282.30 C102.55,282.45 104.03,281.43 105.50,281.00 C106.97,280.57 108.28,279.62 109.90,279.70 C111.52,279.78 113.45,280.98 115.20,281.50 C116.95,282.02 118.75,282.37 120.40,282.80 C122.05,283.23 123.63,283.28 125.10,284.10 C126.57,284.92 127.83,286.15 129.20,287.70 C130.57,289.25 131.93,291.60 133.30,293.40 C134.67,295.20 135.85,297.13 137.40,298.50 C138.95,299.87 140.88,300.48 142.60,301.60 C144.32,302.72 145.98,303.75 147.70,305.20 C149.42,306.65 151.35,309.27 152.90,310.30 C154.45,311.33 155.80,310.78 157.00,311.40 C158.20,312.02 159.25,312.72 160.10,314.00 C160.95,315.28 161.47,316.93 162.10,319.10 C162.73,321.27 163.48,324.93 163.90,327.00 C164.32,329.07 164.22,328.82 164.60,331.50 C164.98,334.18 165.68,339.25 166.20,343.10 C166.72,346.95 167.22,350.77 167.70,354.60 C168.18,358.43 168.57,362.27 169.10,366.10 C169.63,369.93 170.37,373.62 170.90,377.60 C171.43,381.58 171.70,385.28 172.30,390.00 C172.90,394.72 173.85,401.33 174.50,405.90 C175.15,410.47 175.53,413.57 176.20,417.40 C176.87,421.23 177.63,425.53 178.50,428.90 C179.37,432.27 180.27,435.08 181.40,437.60 C182.53,440.12 183.58,442.52 185.30,444.00 C187.02,445.48 189.92,446.00 191.70,446.50 C193.48,447.00 195.28,446.92 196.00,447.00 L196.00,447.00 L44.50,447.00 Z" fill="#0000ff" fill-opacity="0.25" stroke="none"/>
<path d="M44.50,447.00 C45.32,446.97 47.87,447.08 49.40,446.80 C50.93,446.52 52.37,446.33 53.70,445.30 C55.03,444.27 56.27,442.62 57.40,440.60 C58.53,438.58 59.62,436.08 60.50,433.20 C61.38,430.32 62.08,426.80 62.70,423.30 C63.32,419.80 63.73,416.10 64.20,412.20 C64.67,408.30 65.13,403.60 65.50,399.90 C65.87,396.20 66.15,393.42 66.40,390.00 C66.65,386.58 66.68,383.23 67.00,379.40 C67.32,375.57 67.88,371.12 68.30,367.00 C68.72,362.88 69.10,358.82 69.50,354.70 C69.90,350.58 70.28,346.42 70.70,342.30 C71.12,338.18 71.57,334.05 72.00,330.00 C72.43,325.95 72.90,322.33 73.30,318.00 C73.70,313.67 74.00,308.67 74.40,304.00 C74.80,299.33 75.30,293.38 75.70,290.00 C76.10,286.62 76.50,286.03 76.80,283.70 C77.10,281.37 77.15,278.22 77.50,276.00 C77.85,273.78 78.43,271.57 78.90,270.40 C79.37,269.23 79.53,269.17 80.30,269.00 C81.07,268.83 82.37,269.15 83.50,269.40 C84.63,269.65 85.77,269.58 87.10,270.50 C88.43,271.42 89.88,273.30 91.50,274.90 C93.12,276.50 95.20,278.87 96.80,280.10 C98.40,281.33 99.65,282.15 101.10,282.30 C102.55,282.45 104.03,281.43 105.50,281.00 C106.97,280.57 108.28,279.62 109.90,279.70 C111.52,279.78 113.45,280.98 115.20,281.50 C116.95,282.02 118.75,282.37 120.40,282.80 C122.05,283.23 123.63,283.28 125.10,284.10 C126.57,284.92 127.83,286.15 129.20,287.70 C130.57,289.25 131.93,291.60 133.30,293.40 C134.67,295.20 135.85,297.13 137.40,298.50 C138.95,299.87 140.88,300.48 142.60,301.60 C144.32,302.72 145.98,303.75 147.70,305.20 C149.42,306.65 151.35,309.27 152.90,310.30 C154.45,311.33 155.80,310.78 157.00,311.40 C158.20,312.02 159.25,312.72 160.10,314.00 C160.95,315.28 161.47,316.93 162.10,319.10 C162.73,321.27 163.48,324.93 163.90,327.00 C164.32,329.07 164.22,328.82 164.60,331.50 C164.98,334.18 165.68,339.25 166.20,343.10 C166.72,346.95 167.22,350.77 167.70,354.60 C168.18,358.43 168.57,362.27 169.10,366.10 C169.63,369.93 170.37,373.62 170.90,377.60 C171.43,381.58 171.70,385.28 172.30,390.00 C172.90,394.72 173.85,401.33 174.50,405.90 C175.15,410.47 175.53,413.57 176.20,417.40 C176.87,421.23 177.63,425.53 178.50,428.90 C179.37,432.27 180.27,435.08 181.40,437.60 C182.53,440.12 183.58,442.52 185.30,444.00 C187.02,445.48 189.92,446.00 191.70,446.50 C193.48,447.00 195.28,446.92 196.00,447.00" fill="none" stroke="#0000ff" stroke-width="0.7" stroke-opacity="0.75"/>
<path d="M44.50,447.00 C45.32,446.97 47.87,447.08 49.40,446.80 C50.93,446.52 52.37,446.33 53.70,445.30 C55.03,444.27 56.27,442.62 57.40,440.60 C58.53,438.58 59.62,436.08 60.50,433.20 C61.38,430.32 62.08,426.80 62.70,423.30 C63.32,419.80 63.73,416.10 64.20,412.20 C64.67,408.30 65.13,403.60 65.50,399.90 C65.87,396.20 66.15,393.42 66.40,390.00 C66.65,386.58 66.68,383.23 67.00,379.40 C67.32,375.57 67.88,371.12 68.30,367.00 C68.72,362.88 69.10,358.82 69.50,354.70 C69.90,350.58 70.28,346.42 70.70,342.30 C71.12,338.18 71.57,334.05 72.00,330.00 C72.43,325.95 72.90,322.33 73.30,318.00 C73.70,313.67 74.00,308.67 74.40,304.00 C74.80,299.33 75.30,293.38 75.70,290.00 C76.10,286.62 76.50,286.03 76.80,283.70 C77.10,281.37 77.15,278.22 77.50,276.00 C77.85,273.78 78.43,271.57 78.90,270.40 C79.37,269.23 79.53,269.17 80.30,269.00 C81.07,268.83 82.37,269.15 83.50,269.40 C84.63,269.65 85.77,269.58 87.10,270.50 C88.43,271.42 89.88,273.30 91.50,274.90 C93.12,276.50 95.20,278.87 96.80,280.10 C98.40,281.33 99.65,282.15 101.10,282.30 C102.55,282.45 104.03,281.43 105.50,281.00 C106.97,280.57 108.28,279.62 109.90,279.70 C111.52,279.78 113.45,280.98 115.20,281.50 C116.95,282.02 118.75,282.37 120.40,282.80 C122.05,283.23 123.80,283.20 125.10,284.10 C126.40,285.00 127.00,286.48 128.20,288.20 C129.40,289.92 130.93,292.42 132.30,294.40 C133.67,296.38 134.87,298.87 136.40,300.10 C137.93,301.33 139.62,301.03 141.50,301.80 C143.38,302.57 145.80,303.37 147.70,304.70 C149.60,306.03 151.52,308.68 152.90,309.80 C154.28,310.92 154.98,310.53 156.00,311.40 C157.02,312.27 158.15,313.55 159.00,315.00 C159.85,316.45 160.35,318.05 161.10,320.10 C161.85,322.15 162.95,325.40 163.50,327.30 C164.05,329.20 163.95,328.87 164.40,331.50 C164.85,334.13 165.65,339.25 166.20,343.10 C166.75,346.95 167.22,350.77 167.70,354.60 C168.18,358.43 168.57,362.27 169.10,366.10 C169.63,369.93 170.37,373.62 170.90,377.60 C171.43,381.58 171.70,385.28 172.30,390.00 C172.90,394.72 173.85,401.33 174.50,405.90 C175.15,410.47 175.53,413.57 176.20,417.40 C176.87,421.23 177.63,425.53 178.50,428.90 C179.37,432.27 180.27,435.08 181.40,437.60 C182.53,440.12 183.58,442.52 185.30,444.00 C187.02,445.48 189.92,446.00 191.70,446.50 C193.48,447.00 195.28,446.92 196.00,447.00 L196.00,447.00 L44.50,447.00 Z" fill="#ffa500" fill-opacity="0.25" stroke="none"/>
<path d="M44.50,447.00 C45.32,446.97 47.87,447.08 49.40,446.80 C50.93,446.52 52.37,446.33 53.70,445.30 C55.03,444.27 56.27,442.62 57.40,440.60 C58.53,438.58 59.62,436.08 60.50,433.20 C61.38,430.32 62.08,426.80 62.70,423.30 C63.32,419.80 63.73,416.10 64.20,412.20 C64.67,408.30 65.13,403.60 65.50,399.90 C65.87,396.20 66.15,393.42 66.40,390.00 C66.65,386.58 66.68,383.23 67.00,379.40 C67.32,375.57 67.88,371.12 68.30,367.00 C68.72,362.88 69.10,358.82 69.50,354.70 C69.90,350.58 70.28,346.42 70.70,342.30 C71.12,338.18 71.57,334.05 72.00,330.00 C72.43,325.95 72.90,322.33 73.30,318.00 C73.70,313.67 74.00,308.67 74.40,304.00 C74.80,299.33 75.30,293.38 75.70,290.00 C76.10,286.62 76.50,286.03 76.80,283.70 C77.10,281.37 77.15,278.22 77.50,276.00 C77.85,273.78 78.43,271.57 78.90,270.40 C79.37,269.23 79.53,269.17 80.30,269.00 C81.07,268.83 82.37,269.15 83.50,269.40 C84.63,269.65 85.77,269.58 87.10,270.50 C88.43,271.42 89.88,273.30 91.50,274.90 C93.12,276.50 95.20,278.87 96.80,280.10 C98.40,281.33 99.65,282.15 101.10,282.30 C102.55,282.45 104.03,281.43 105.50,281.00 C106.97,280.57 108.28,279.62 109.90,279.70 C111.52,279.78 113.45,280.98 115.20,281.50 C116.95,282.02 118.75,282.37 120.40,282.80 C122.05,283.23 123.80,283.20 125.10,284.10 C126.40,285.00 127.00,286.48 128.20,288.20 C129.40,289.92 130.93,292.42 132.30,294.40 C133.67,296.38 134.87,298.87 136.40,300.10 C137.93,301.33 139.62,301.03 141.50,301.80 C143.38,302.57 145.80,303.37 147.70,304.70 C149.60,306.03 151.52,308.68 152.90,309.80 C154.28,310.92 154.98,310.53 156.00,311.40 C157.02,312.27 158.15,313.55 159.00,315.00 C159.85,316.45 160.35,318.05 161.10,320.10 C161.85,322.15 162.95,325.40 163.50,327.30 C164.05,329.20 163.95,328.87 164.40,331.50 C164.85,334.13 165.65,339.25 166.20,343.10 C166.75,346.95 167.22,350.77 167.70,354.60 C168.18,358.43 168.57,362.27 169.10,366.10 C169.63,369.93 170.37,373.62 170.90,377.60 C171.43,381.58 171.70,385.28 172.30,390.00 C172.90,394.72 173.85,401.33 174.50,405.90 C175.15,410.47 175.53,413.57 176.20,417.40 C176.87,421.23 177.63,425.53 178.50,428.90 C179.37,432.27 180.27,435.08 181.40,437.60 C182.53,440.12 183.58,442.52 185.30,444.00 C187.02,445.48 189.92,446.00 191.70,446.50 C193.48,447.00 195.28,446.92 196.00,447.00" fill="none" stroke="#ffa500" stroke-width="0.75" stroke-opacity="1"/>
</g>
<g stroke="#b0b0b0" stroke-opacity="0.45" stroke-width="0.9">
<line x1="41.30" y1="258.5" x2="41.30" y2="447.0"/>
<line x1="76.30" y1="258.5" x2="76.30" y2="447.0"/>
<line x1="111.30" y1="258.5" x2="111.30" y2="447.0"/>
<line x1="146.30" y1="258.5" x2="146.30" y2="447.0"/>
<line x1="181.30" y1="258.5" x2="181.30" y2="447.0"/>
<line x1="40.6" y1="447.00" x2="200.0" y2="447.00"/>
<line x1="40.6" y1="423.90" x2="200.0" y2="423.90"/>
<line x1="40.6" y1="400.80" x2="200.0" y2="400.80"/>
<line x1="40.6" y1="377.70" x2="200.0" y2="377.70"/>
<line x1="40.6" y1="354.60" x2="200.0" y2="354.60"/>
<line x1="40.6" y1="331.50" x2="200.0" y2="331.50"/>
<line x1="40.6" y1="308.40" x2="200.0" y2="308.40"/>
<line x1="40.6" y1="285.30" x2="200.0" y2="285.30"/>
<line x1="40.6" y1="262.20" x2="200.0" y2="262.20"/>
</g>
<rect x="40.6" y="258.5" width="159.40" height="188.50" fill="none" stroke="#969696" stroke-width="1.35"/>
<g stroke="#969696" stroke-width="1.35">
<line x1="41.30" y1="447.0" x2="41.30" y2="449.30"/>
<line x1="76.30" y1="447.0" x2="76.30" y2="449.30"/>
<line x1="111.30" y1="447.0" x2="111.30" y2="449.30"/>
<line x1="146.30" y1="447.0" x2="146.30" y2="449.30"/>
<line x1="181.30" y1="447.0" x2="181.30" y2="449.30"/>
<line x1="40.6" y1="447.00" x2="38.30" y2="447.00"/>
<line x1="40.6" y1="423.90" x2="38.30" y2="423.90"/>
<line x1="40.6" y1="400.80" x2="38.30" y2="400.80"/>
<line x1="40.6" y1="377.70" x2="38.30" y2="377.70"/>
<line x1="40.6" y1="354.60" x2="38.30" y2="354.60"/>
<line x1="40.6" y1="331.50" x2="38.30" y2="331.50"/>
<line x1="40.6" y1="308.40" x2="38.30" y2="308.40"/>
<line x1="40.6" y1="285.30" x2="38.30" y2="285.30"/>
<line x1="40.6" y1="262.20" x2="38.30" y2="262.20"/>
</g>
<text x="41.30" y="457.30" font-size="8.14" text-anchor="middle" fill="#262626" color="#262626" textLength="16.36" lengthAdjust="spacingAndGlyphs">−10</text>
<text x="76.30" y="457.30" font-size="8.14" text-anchor="middle" fill="#262626" color="#262626" textLength="4.93" lengthAdjust="spacingAndGlyphs">0</text>
<text x="111.30" y="457.30" font-size="8.14" text-anchor="middle" fill="#262626" color="#262626" textLength="9.86" lengthAdjust="spacingAndGlyphs">10</text>
<text x="146.30" y="457.30" font-size="8.14" text-anchor="middle" fill="#262626" color="#262626" textLength="9.86" lengthAdjust="spacingAndGlyphs">20</text>
<text x="181.30" y="457.30" font-size="8.14" text-anchor="middle" fill="#262626" color="#262626" textLength="9.86" lengthAdjust="spacingAndGlyphs">30</text>
<text x="36.30" y="450.30" font-size="8.14" text-anchor="end" fill="#262626" color="#262626" textLength="22.19" lengthAdjust="spacingAndGlyphs">0.000</text>
<text x="36.30" y="427.20" font-size="8.14" text-anchor="end" fill="#262626" color="#262626" textLength="22.19" lengthAdjust="spacingAndGlyphs">0.005</text>
<text x="36.30" y="404.10" font-size="8.14" text-anchor="end" fill="#262626" color="#262626" textLength="22.19" lengthAdjust="spacingAndGlyphs">0.010</text>
<text x="36.30" y="381.00" font-size="8.14" text-anchor="end" fill="#262626" color="#262626" textLength="22.19" lengthAdjust="spacingAndGlyphs">0.015</text>
<text x="36.30" y="357.90" font-size="8.14" text-anchor="end" fill="#262626" color="#262626" textLength="22.19" lengthAdjust="spacingAndGlyphs">0.020</text>
<text x="36.30" y="334.80" font-size="8.14" text-anchor="end" fill="#262626" color="#262626" textLength="22.19" lengthAdjust="spacingAndGlyphs">0.025</text>
<text x="36.30" y="311.70" font-size="8.14" text-anchor="end" fill="#262626" color="#262626" textLength="22.19" lengthAdjust="spacingAndGlyphs">0.030</text>
<text x="36.30" y="288.60" font-size="8.14" text-anchor="end" fill="#262626" color="#262626" textLength="22.19" lengthAdjust="spacingAndGlyphs">0.035</text>
<text x="36.30" y="265.50" font-size="8.14" text-anchor="end" fill="#262626" color="#262626" textLength="22.19" lengthAdjust="spacingAndGlyphs">0.040</text>
<clipPath id="cp139905500829104"><rect x="279.7" y="258.5" width="159.80" height="188.50"/></clipPath>
<g clip-path="url(#cp139905500829104)">
<path d="M284.00,447.00 C284.37,447.00 284.82,447.03 286.20,447.00 C287.58,446.97 290.67,447.15 292.30,446.80 C293.93,446.45 294.75,446.13 296.00,444.90 C297.25,443.67 298.67,441.77 299.80,439.40 C300.93,437.03 301.88,433.78 302.80,430.70 C303.72,427.62 304.47,424.60 305.30,420.90 C306.13,417.20 306.98,412.42 307.80,408.50 C308.62,404.58 309.52,400.48 310.20,397.40 C310.88,394.32 311.37,393.00 311.90,390.00 C312.43,387.00 312.85,383.23 313.40,379.40 C313.95,375.57 314.55,371.12 315.20,367.00 C315.85,362.88 316.57,358.82 317.30,354.70 C318.03,350.58 318.90,346.42 319.60,342.30 C320.30,338.18 320.97,333.82 321.50,330.00 C322.03,326.18 322.27,322.82 322.80,319.40 C323.33,315.98 324.08,312.38 324.70,309.50 C325.32,306.62 325.85,304.47 326.50,302.10 C327.15,299.73 327.77,297.35 328.60,295.30 C329.43,293.25 330.30,291.45 331.50,289.80 C332.70,288.15 334.18,287.08 335.80,285.40 C337.42,283.72 339.65,281.37 341.20,279.70 C342.75,278.03 343.90,276.43 345.10,275.40 C346.30,274.37 347.30,273.88 348.40,273.50 C349.50,273.12 350.38,273.05 351.70,273.10 C353.02,273.15 354.65,273.58 356.30,273.80 C357.95,274.02 359.85,274.13 361.60,274.40 C363.35,274.67 364.90,275.17 366.80,275.40 C368.70,275.63 370.78,275.85 373.00,275.80 C375.22,275.75 378.15,275.87 380.10,275.10 C382.05,274.33 383.27,272.30 384.70,271.20 C386.13,270.10 387.60,269.17 388.70,268.50 C389.80,267.83 390.43,267.08 391.30,267.20 C392.17,267.32 393.13,268.32 393.90,269.20 C394.67,270.08 395.28,271.08 395.90,272.50 C396.52,273.92 397.15,275.83 397.60,277.70 C398.05,279.57 398.27,280.87 398.60,283.70 C398.93,286.53 399.23,291.22 399.60,294.70 C399.97,298.18 400.40,301.32 400.80,304.60 C401.20,307.88 401.58,311.32 402.00,314.40 C402.42,317.48 402.92,320.50 403.30,323.10 C403.68,325.70 403.93,326.18 404.30,330.00 C404.67,333.82 405.10,340.85 405.50,346.00 C405.90,351.15 406.28,356.17 406.70,360.90 C407.12,365.63 407.52,369.55 408.00,374.40 C408.48,379.25 409.12,385.35 409.60,390.00 C410.08,394.65 410.45,398.18 410.90,402.30 C411.35,406.42 411.75,410.58 412.30,414.70 C412.85,418.82 413.47,423.30 414.20,427.00 C414.93,430.70 415.77,434.12 416.70,436.90 C417.63,439.68 418.57,442.10 419.80,443.70 C421.03,445.30 422.47,445.95 424.10,446.50 C425.73,447.05 427.95,446.92 429.60,447.00 C431.25,447.08 433.27,447.00 434.00,447.00 L434.00,447.00 L284.00,447.00 Z" fill="#0000ff" fill-opacity="0.25" stroke="none"/>
<path d="M284.00,447.00 C284.37,447.00 284.82,447.03 286.20,447.00 C287.58,446.97 290.67,447.15 292.30,446.80 C293.93,446.45 294.75,446.13 296.00,444.90 C297.25,443.67 298.67,441.77 299.80,439.40 C300.93,437.03 301.88,433.78 302.80,430.70 C303.72,427.62 304.47,424.60 305.30,420.90 C306.13,417.20 306.98,412.42 307.80,408.50 C308.62,404.58 309.52,400.48 310.20,397.40 C310.88,394.32 311.37,393.00 311.90,390.00 C312.43,387.00 312.85,383.23 313.40,379.40 C313.95,375.57 314.55,371.12 315.20,367.00 C315.85,362.88 316.57,358.82 317.30,354.70 C318.03,350.58 318.90,346.42 319.60,342.30 C320.30,338.18 320.97,333.82 321.50,330.00 C322.03,326.18 322.27,322.82 322.80,319.40 C323.33,315.98 324.08,312.38 324.70,309.50 C325.32,306.62 325.85,304.47 326.50,302.10 C327.15,299.73 327.77,297.35 328.60,295.30 C329.43,293.25 330.30,291.45 331.50,289.80 C332.70,288.15 334.18,287.08 335.80,285.40 C337.42,283.72 339.65,281.37 341.20,279.70 C342.75,278.03 343.90,276.43 345.10,275.40 C346.30,274.37 347.30,273.88 348.40,273.50 C349.50,273.12 350.38,273.05 351.70,273.10 C353.02,273.15 354.65,273.58 356.30,273.80 C357.95,274.02 359.85,274.13 361.60,274.40 C363.35,274.67 364.90,275.17 366.80,275.40 C368.70,275.63 370.78,275.85 373.00,275.80 C375.22,275.75 378.15,275.87 380.10,275.10 C382.05,274.33 383.27,272.30 384.70,271.20 C386.13,270.10 387.60,269.17 388.70,268.50 C389.80,267.83 390.43,267.08 391.30,267.20 C392.17,267.32 393.13,268.32 393.90,269.20 C394.67,270.08 395.28,271.08 395.90,272.50 C396.52,273.92 397.15,275.83 397.60,277.70 C398.05,279.57 398.27,280.87 398.60,283.70 C398.93,286.53 399.23,291.22 399.60,294.70 C399.97,298.18 400.40,301.32 400.80,304.60 C401.20,307.88 401.58,311.32 402.00,314.40 C402.42,317.48 402.92,320.50 403.30,323.10 C403.68,325.70 403.93,326.18 404.30,330.00 C404.67,333.82 405.10,340.85 405.50,346.00 C405.90,351.15 406.28,356.17 406.70,360.90 C407.12,365.63 407.52,369.55 408.00,374.40 C408.48,379.25 409.12,385.35 409.60,390.00 C410.08,394.65 410.45,398.18 410.90,402.30 C411.35,406.42 411.75,410.58 412.30,414.70 C412.85,418.82 413.47,423.30 414.20,427.00 C414.93,430.70 415.77,434.12 416.70,436.90 C417.63,439.68 418.57,442.10 419.80,443.70 C421.03,445.30 422.47,445.95 424.10,446.50 C425.73,447.05 427.95,446.92 429.60,447.00 C431.25,447.08 433.27,447.00 434.00,447.00" fill="none" stroke="#0000ff" stroke-width="0.7" stroke-opacity="0.75"/>
<path d="M284.00,447.00 C284.37,447.00 284.82,447.03 286.20,447.00 C287.58,446.97 290.67,447.15 292.30,446.80 C293.93,446.45 294.75,446.13 296.00,444.90 C297.25,443.67 298.67,441.77 299.80,439.40 C300.93,437.03 301.88,433.78 302.80,430.70 C303.72,427.62 304.47,424.60 305.30,420.90 C306.13,417.20 306.98,412.42 307.80,408.50 C308.62,404.58 309.52,400.48 310.20,397.40 C310.88,394.32 311.37,393.00 311.90,390.00 C312.43,387.00 312.85,383.23 313.40,379.40 C313.95,375.57 314.55,371.12 315.20,367.00 C315.85,362.88 316.57,358.82 317.30,354.70 C318.03,350.58 318.90,346.42 319.60,342.30 C320.30,338.18 320.97,333.82 321.50,330.00 C322.03,326.18 322.27,322.82 322.80,319.40 C323.33,315.98 324.08,312.38 324.70,309.50 C325.32,306.62 325.85,304.47 326.50,302.10 C327.15,299.73 327.77,297.35 328.60,295.30 C329.43,293.25 330.30,291.45 331.50,289.80 C332.70,288.15 334.18,287.08 335.80,285.40 C337.42,283.72 339.65,281.37 341.20,279.70 C342.75,278.03 343.90,276.43 345.10,275.40 C346.30,274.37 347.30,273.88 348.40,273.50 C349.50,273.12 350.38,273.05 351.70,273.10 C353.02,273.15 354.65,273.58 356.30,273.80 C357.95,274.02 359.85,274.13 361.60,274.40 C363.35,274.67 364.90,275.17 366.80,275.40 C368.70,275.63 370.78,275.85 373.00,275.80 C375.22,275.75 378.15,275.87 380.10,275.10 C382.05,274.33 383.27,272.30 384.70,271.20 C386.13,270.10 387.60,269.17 388.70,268.50 C389.80,267.83 390.43,267.08 391.30,267.20 C392.17,267.32 393.13,268.32 393.90,269.20 C394.67,270.08 395.28,271.08 395.90,272.50 C396.52,273.92 397.15,275.83 397.60,277.70 C398.05,279.57 398.27,280.87 398.60,283.70 C398.93,286.53 399.23,291.22 399.60,294.70 C399.97,298.18 400.40,301.32 400.80,304.60 C401.20,307.88 401.58,311.32 402.00,314.40 C402.42,317.48 402.92,320.50 403.30,323.10 C403.68,325.70 403.93,326.18 404.30,330.00 C404.67,333.82 405.10,340.85 405.50,346.00 C405.90,351.15 406.28,356.17 406.70,360.90 C407.12,365.63 407.52,369.55 408.00,374.40 C408.48,379.25 409.12,385.35 409.60,390.00 C410.08,394.65 410.45,398.18 410.90,402.30 C411.35,406.42 411.75,410.58 412.30,414.70 C412.85,418.82 413.47,423.30 414.20,427.00 C414.93,430.70 415.77,434.12 416.70,436.90 C417.63,439.68 418.57,442.10 419.80,443.70 C421.03,445.30 422.47,445.95 424.10,446.50 C425.73,447.05 427.95,446.92 429.60,447.00 C431.25,447.08 433.27,447.00 434.00,447.00 L434.00,447.00 L284.00,447.00 Z" fill="#ffa500" fill-opacity="0.25" stroke="none"/>
<path d="M284.00,447.00 C284.37,447.00 284.82,447.03 286.20,447.00 C287.58,446.97 290.67,447.15 292.30,446.80 C293.93,446.45 294.75,446.13 296.00,444.90 C297.25,443.67 298.67,441.77 299.80,439.40 C300.93,437.03 301.88,433.78 302.80,430.70 C303.72,427.62 304.47,424.60 305.30,420.90 C306.13,417.20 306.98,412.42 307.80,408.50 C308.62,404.58 309.52,400.48 310.20,397.40 C310.88,394.32 311.37,393.00 311.90,390.00 C312.43,387.00 312.85,383.23 313.40,379.40 C313.95,375.57 314.55,371.12 315.20,367.00 C315.85,362.88 316.57,358.82 317.30,354.70 C318.03,350.58 318.90,346.42 319.60,342.30 C320.30,338.18 320.97,333.82 321.50,330.00 C322.03,326.18 322.27,322.82 322.80,319.40 C323.33,315.98 324.08,312.38 324.70,309.50 C325.32,306.62 325.85,304.47 326.50,302.10 C327.15,299.73 327.77,297.35 328.60,295.30 C329.43,293.25 330.30,291.45 331.50,289.80 C332.70,288.15 334.18,287.08 335.80,285.40 C337.42,283.72 339.65,281.37 341.20,279.70 C342.75,278.03 343.90,276.43 345.10,275.40 C346.30,274.37 347.30,273.88 348.40,273.50 C349.50,273.12 350.38,273.05 351.70,273.10 C353.02,273.15 354.65,273.58 356.30,273.80 C357.95,274.02 359.85,274.13 361.60,274.40 C363.35,274.67 364.90,275.17 366.80,275.40 C368.70,275.63 370.78,275.85 373.00,275.80 C375.22,275.75 378.15,275.87 380.10,275.10 C382.05,274.33 383.27,272.30 384.70,271.20 C386.13,270.10 387.60,269.17 388.70,268.50 C389.80,267.83 390.43,267.08 391.30,267.20 C392.17,267.32 393.13,268.32 393.90,269.20 C394.67,270.08 395.28,271.08 395.90,272.50 C396.52,273.92 397.15,275.83 397.60,277.70 C398.05,279.57 398.27,280.87 398.60,283.70 C398.93,286.53 399.23,291.22 399.60,294.70 C399.97,298.18 400.40,301.32 400.80,304.60 C401.20,307.88 401.58,311.32 402.00,314.40 C402.42,317.48 402.92,320.50 403.30,323.10 C403.68,325.70 403.93,326.18 404.30,330.00 C404.67,333.82 405.10,340.85 405.50,346.00 C405.90,351.15 406.28,356.17 406.70,360.90 C407.12,365.63 407.52,369.55 408.00,374.40 C408.48,379.25 409.12,385.35 409.60,390.00 C410.08,394.65 410.45,398.18 410.90,402.30 C411.35,406.42 411.75,410.58 412.30,414.70 C412.85,418.82 413.47,423.30 414.20,427.00 C414.93,430.70 415.77,434.12 416.70,436.90 C417.63,439.68 418.57,442.10 419.80,443.70 C421.03,445.30 422.47,445.95 424.10,446.50 C425.73,447.05 427.95,446.92 429.60,447.00 C431.25,447.08 433.27,447.00 434.00,447.00" fill="none" stroke="#ffa500" stroke-width="0.75" stroke-opacity="1"/>
</g>
<g stroke="#b0b0b0" stroke-opacity="0.45" stroke-width="0.9">
<line x1="282.38" y1="258.5" x2="282.38" y2="447.0"/>
<line x1="313.50" y1="258.5" x2="313.50" y2="447.0"/>
<line x1="344.62" y1="258.5" x2="344.62" y2="447.0"/>
<line x1="375.75" y1="258.5" x2="375.75" y2="447.0"/>
<line x1="406.88" y1="258.5" x2="406.88" y2="447.0"/>
<line x1="438.00" y1="258.5" x2="438.00" y2="447.0"/>
<line x1="279.7" y1="447.00" x2="439.5" y2="447.00"/>
<line x1="279.7" y1="421.90" x2="439.5" y2="421.90"/>
<line x1="279.7" y1="396.80" x2="439.5" y2="396.80"/>
<line x1="279.7" y1="371.70" x2="439.5" y2="371.70"/>
<line x1="279.7" y1="346.60" x2="439.5" y2="346.60"/>
<line x1="279.7" y1="321.50" x2="439.5" y2="321.50"/>
<line x1="279.7" y1="296.40" x2="439.5" y2="296.40"/>
<line x1="279.7" y1="271.30" x2="439.5" y2="271.30"/>
</g>
<rect x="279.7" y="258.5" width="159.80" height="188.50" fill="none" stroke="#969696" stroke-width="1.35"/>
<g stroke="#969696" stroke-width="1.35">
<line x1="282.38" y1="447.0" x2="282.38" y2="449.30"/>
<line x1="313.50" y1="447.0" x2="313.50" y2="449.30"/>
<line x1="344.62" y1="447.0" x2="344.62" y2="449.30"/>
<line x1="375.75" y1="447.0" x2="375.75" y2="449.30"/>
<line x1="406.88" y1="447.0" x2="406.88" y2="449.30"/>
<line x1="438.00" y1="447.0" x2="438.00" y2="449.30"/>
<line x1="279.7" y1="447.00" x2="277.40" y2="447.00"/>
<line x1="279.7" y1="421.90" x2="277.40" y2="421.90"/>
<line x1="279.7" y1="396.80" x2="277.40" y2="396.80"/>
<line x1="279.7" y1="371.70" x2="277.40" y2="371.70"/>
<line x1="279.7" y1="346.60" x2="277.40" y2="346.60"/>
<line x1="279.7" y1="321.50" x2="277.40" y2="321.50"/>
<line x1="279.7" y1="296.40" x2="277.40" y2="296.40"/>
<line x1="279.7" y1="271.30" x2="277.40" y2="271.30"/>
</g>
<text x="282.38" y="457.30" font-size="8.14" text-anchor="middle" fill="#262626" color="#262626" textLength="18.82" lengthAdjust="spacingAndGlyphs">−2.5</text>
<text x="313.50" y="457.30" font-size="8.14" text-anchor="middle" fill="#262626" color="#262626" textLength="12.33" lengthAdjust="spacingAndGlyphs">0.0</text>
<text x="344.62" y="457.30" font-size="8.14" text-anchor="middle" fill="#262626" color="#262626" textLength="12.33" lengthAdjust="spacingAndGlyphs">2.5</text>
<text x="375.75" y="457.30" font-size="8.14" text-anchor="middle" fill="#262626" color="#262626" textLength="12.33" lengthAdjust="spacingAndGlyphs">5.0</text>
<text x="406.88" y="457.30" font-size="8.14" text-anchor="middle" fill="#262626" color="#262626" textLength="12.33" lengthAdjust="spacingAndGlyphs">7.5</text>
<text x="438.00" y="457.30" font-size="8.14" text-anchor="middle" fill="#262626" color="#262626" textLength="17.26" lengthAdjust="spacingAndGlyphs">10.0</text>
<text x="275.40" y="450.30" font-size="8.14" text-anchor="end" fill="#262626" color="#262626" textLength="17.26" lengthAdjust="spacingAndGlyphs">0.00</text>
<text x="275.40" y="425.20" font-size="8.14" text-anchor="end" fill="#262626" color="#262626" textLength="17.26" lengthAdjust="spacingAndGlyphs">0.02</text>
<text x="275.40" y="400.10" font-size="8.14" text-anchor="end" fill="#262626" color="#262626" textLength="17.26" lengthAdjust="spacingAndGlyphs">0.04</text>
<text x="275.40" y="375.00" font-size="8.14" text-anchor="end" fill="#262626" color="#262626" textLength="17.26" lengthAdjust="spacingAndGlyphs">0.06</text>
<text x="275.40" y="349.90" font-size="8.14" text-anchor="end" fill="#262626" color="#262626" textLength="17.26" lengthAdjust="spacingAndGlyphs">0.08</text>
<text x="275.40" y="324.80" font-size="8.14" text-anchor="end" fill="#262626" color="#262626" textLength="17.26" lengthAdjust="spacingAndGlyphs">0.10</text>
<text x="275.40" y="299.70" font-size="8.14" text-anchor="end" fill="#262626" color="#262626" textLength="17.26" lengthAdjust="spacingAndGlyphs">0.12</text>
<text x="275.40" y="274.60" font-size="8.14" text-anchor="end" fill="#262626" color="#262626" textLength="17.26" lengthAdjust="spacingAndGlyphs">0.14</text>
<clipPath id="cp139905500825072"><rect x="519.5" y="258.5" width="159.40" height="188.30"/></clipPath>
<g clip-path="url(#cp139905500825072)">
<path d="M521.00,447.00 C521.45,447.00 522.32,447.03 523.70,447.00 C525.08,446.97 527.65,447.25 529.30,446.80 C530.95,446.35 532.27,445.53 533.60,444.30 C534.93,443.07 536.17,441.67 537.30,439.40 C538.43,437.13 539.52,433.78 540.40,430.70 C541.28,427.62 541.98,424.60 542.60,420.90 C543.22,417.20 543.65,412.42 544.10,408.50 C544.55,404.58 544.93,400.48 545.30,397.40 C545.67,394.32 545.80,394.50 546.30,390.00 C546.80,385.50 547.65,376.75 548.30,370.40 C548.95,364.05 549.58,357.47 550.20,351.90 C550.82,346.33 551.35,341.63 552.00,337.00 C552.65,332.37 553.30,328.35 554.10,324.10 C554.90,319.85 555.77,314.98 556.80,311.50 C557.83,308.02 559.03,305.78 560.30,303.20 C561.57,300.62 562.87,298.15 564.40,296.00 C565.93,293.85 567.70,292.20 569.50,290.30 C571.30,288.40 573.48,286.92 575.20,284.60 C576.92,282.28 578.33,278.72 579.80,276.40 C581.27,274.08 582.88,271.87 584.00,270.70 C585.12,269.53 585.85,269.53 586.50,269.40 C587.15,269.27 586.95,268.73 587.90,269.90 C588.85,271.07 590.77,274.00 592.20,276.40 C593.63,278.80 595.05,282.25 596.50,284.30 C597.95,286.35 599.33,287.37 600.90,288.70 C602.47,290.03 604.35,291.95 605.90,292.30 C607.45,292.65 608.88,292.00 610.20,290.80 C611.52,289.60 612.60,287.25 613.80,285.10 C615.00,282.95 616.20,280.18 617.40,277.90 C618.60,275.62 619.90,272.88 621.00,271.40 C622.10,269.92 623.02,269.57 624.00,269.00 C624.98,268.43 625.62,267.97 626.90,268.00 C628.18,268.03 630.50,268.02 631.70,269.20 C632.90,270.38 633.40,272.72 634.10,275.10 C634.80,277.48 635.40,280.70 635.90,283.50 C636.40,286.30 636.70,289.12 637.10,291.90 C637.50,294.68 637.90,297.22 638.30,300.20 C638.70,303.18 639.08,306.50 639.50,309.80 C639.92,313.10 640.35,315.90 640.80,320.00 C641.25,324.10 641.73,329.60 642.20,334.40 C642.67,339.20 643.12,344.00 643.60,348.80 C644.08,353.60 644.62,358.40 645.10,363.20 C645.58,368.00 646.02,373.13 646.50,377.60 C646.98,382.07 647.55,386.28 648.00,390.00 C648.45,393.72 648.80,396.60 649.20,399.90 C649.60,403.20 649.95,406.52 650.40,409.80 C650.85,413.08 651.33,416.32 651.90,419.60 C652.47,422.88 653.02,426.42 653.80,429.50 C654.58,432.58 655.52,435.73 656.60,438.10 C657.68,440.47 658.87,442.33 660.30,443.70 C661.73,445.07 663.45,445.75 665.20,446.30 C666.95,446.85 669.33,446.88 670.80,447.00 C672.27,447.12 673.47,447.00 674.00,447.00 L674.00,446.80 L521.00,446.80 Z" fill="#0000ff" fill-opacity="0.25" stroke="none"/>
<path d="M521.00,447.00 C521.45,447.00 522.32,447.03 523.70,447.00 C525.08,446.97 527.65,447.25 529.30,446.80 C530.95,446.35 532.27,445.53 533.60,444.30 C534.93,443.07 536.17,441.67 537.30,439.40 C538.43,437.13 539.52,433.78 540.40,430.70 C541.28,427.62 541.98,424.60 542.60,420.90 C543.22,417.20 543.65,412.42 544.10,408.50 C544.55,404.58 544.93,400.48 545.30,397.40 C545.67,394.32 545.80,394.50 546.30,390.00 C546.80,385.50 547.65,376.75 548.30,370.40 C548.95,364.05 549.58,357.47 550.20,351.90 C550.82,346.33 551.35,341.63 552.00,337.00 C552.65,332.37 553.30,328.35 554.10,324.10 C554.90,319.85 555.77,314.98 556.80,311.50 C557.83,308.02 559.03,305.78 560.30,303.20 C561.57,300.62 562.87,298.15 564.40,296.00 C565.93,293.85 567.70,292.20 569.50,290.30 C571.30,288.40 573.48,286.92 575.20,284.60 C576.92,282.28 578.33,278.72 579.80,276.40 C581.27,274.08 582.88,271.87 584.00,270.70 C585.12,269.53 585.85,269.53 586.50,269.40 C587.15,269.27 586.95,268.73 587.90,269.90 C588.85,271.07 590.77,274.00 592.20,276.40 C593.63,278.80 595.05,282.25 596.50,284.30 C597.95,286.35 599.33,287.37 600.90,288.70 C602.47,290.03 604.35,291.95 605.90,292.30 C607.45,292.65 608.88,292.00 610.20,290.80 C611.52,289.60 612.60,287.25 613.80,285.10 C615.00,282.95 616.20,280.18 617.40,277.90 C618.60,275.62 619.90,272.88 621.00,271.40 C622.10,269.92 623.02,269.57 624.00,269.00 C624.98,268.43 625.62,267.97 626.90,268.00 C628.18,268.03 630.50,268.02 631.70,269.20 C632.90,270.38 633.40,272.72 634.10,275.10 C634.80,277.48 635.40,280.70 635.90,283.50 C636.40,286.30 636.70,289.12 637.10,291.90 C637.50,294.68 637.90,297.22 638.30,300.20 C638.70,303.18 639.08,306.50 639.50,309.80 C639.92,313.10 640.35,315.90 640.80,320.00 C641.25,324.10 641.73,329.60 642.20,334.40 C642.67,339.20 643.12,344.00 643.60,348.80 C644.08,353.60 644.62,358.40 645.10,363.20 C645.58,368.00 646.02,373.13 646.50,377.60 C646.98,382.07 647.55,386.28 648.00,390.00 C648.45,393.72 648.80,396.60 649.20,399.90 C649.60,403.20 649.95,406.52 650.40,409.80 C650.85,413.08 651.33,416.32 651.90,419.60 C652.47,422.88 653.02,426.42 653.80,429.50 C654.58,432.58 655.52,435.73 656.60,438.10 C657.68,440.47 658.87,442.33 660.30,443.70 C661.73,445.07 663.45,445.75 665.20,446.30 C666.95,446.85 669.33,446.88 670.80,447.00 C672.27,447.12 673.47,447.00 674.00,447.00" fill="none" stroke="#0000ff" stroke-width="0.7" stroke-opacity="0.75"/>
<path d="M521.00,447.00 C521.45,447.00 522.32,447.03 523.70,447.00 C525.08,446.97 527.65,447.25 529.30,446.80 C530.95,446.35 532.27,445.53 533.60,444.30 C534.93,443.07 536.17,441.67 537.30,439.40 C538.43,437.13 539.52,433.78 540.40,430.70 C541.28,427.62 541.98,424.60 542.60,420.90 C543.22,417.20 543.65,412.42 544.10,408.50 C544.55,404.58 544.93,400.48 545.30,397.40 C545.67,394.32 545.80,394.50 546.30,390.00 C546.80,385.50 547.65,376.75 548.30,370.40 C548.95,364.05 549.58,357.47 550.20,351.90 C550.82,346.33 551.30,341.02 552.00,337.00 C552.70,332.98 553.47,331.63 554.40,327.80 C555.33,323.97 556.42,317.88 557.60,314.00 C558.78,310.12 559.85,307.68 561.50,304.50 C563.15,301.32 565.65,297.53 567.50,294.90 C569.35,292.27 571.15,290.50 572.60,288.70 C574.05,286.90 574.82,286.32 576.20,284.10 C577.58,281.88 579.43,277.63 580.90,275.40 C582.37,273.17 584.00,271.68 585.00,270.70 C586.00,269.72 586.18,269.63 586.90,269.50 C587.62,269.37 588.05,268.75 589.30,269.90 C590.55,271.05 592.72,274.23 594.40,276.40 C596.08,278.57 597.85,281.22 599.40,282.90 C600.95,284.58 602.25,285.42 603.70,286.50 C605.15,287.58 606.77,289.40 608.10,289.40 C609.43,289.40 610.63,287.70 611.70,286.50 C612.77,285.30 613.55,283.88 614.50,282.20 C615.45,280.52 616.32,278.23 617.40,276.40 C618.48,274.57 619.90,272.43 621.00,271.20 C622.10,269.97 623.02,269.53 624.00,269.00 C624.98,268.47 625.62,267.97 626.90,268.00 C628.18,268.03 630.50,268.02 631.70,269.20 C632.90,270.38 633.40,272.72 634.10,275.10 C634.80,277.48 635.40,280.70 635.90,283.50 C636.40,286.30 636.70,289.12 637.10,291.90 C637.50,294.68 637.90,297.22 638.30,300.20 C638.70,303.18 639.08,306.50 639.50,309.80 C639.92,313.10 640.35,315.90 640.80,320.00 C641.25,324.10 641.73,329.60 642.20,334.40 C642.67,339.20 643.12,344.00 643.60,348.80 C644.08,353.60 644.62,358.40 645.10,363.20 C645.58,368.00 646.02,373.13 646.50,377.60 C646.98,382.07 647.55,386.28 648.00,390.00 C648.45,393.72 648.80,396.60 649.20,399.90 C649.60,403.20 649.95,406.52 650.40,409.80 C650.85,413.08 651.33,416.32 651.90,419.60 C652.47,422.88 653.02,426.42 653.80,429.50 C654.58,432.58 655.52,435.73 656.60,438.10 C657.68,440.47 658.87,442.33 660.30,443.70 C661.73,445.07 663.45,445.75 665.20,446.30 C666.95,446.85 669.33,446.88 670.80,447.00 C672.27,447.12 673.47,447.00 674.00,447.00 L674.00,446.80 L521.00,446.80 Z" fill="#ffa500" fill-opacity="0.25" stroke="none"/>
<path d="M521.00,447.00 C521.45,447.00 522.32,447.03 523.70,447.00 C525.08,446.97 527.65,447.25 529.30,446.80 C530.95,446.35 532.27,445.53 533.60,444.30 C534.93,443.07 536.17,441.67 537.30,439.40 C538.43,437.13 539.52,433.78 540.40,430.70 C541.28,427.62 541.98,424.60 542.60,420.90 C543.22,417.20 543.65,412.42 544.10,408.50 C544.55,404.58 544.93,400.48 545.30,397.40 C545.67,394.32 545.80,394.50 546.30,390.00 C546.80,385.50 547.65,376.75 548.30,370.40 C548.95,364.05 549.58,357.47 550.20,351.90 C550.82,346.33 551.30,341.02 552.00,337.00 C552.70,332.98 553.47,331.63 554.40,327.80 C555.33,323.97 556.42,317.88 557.60,314.00 C558.78,310.12 559.85,307.68 561.50,304.50 C563.15,301.32 565.65,297.53 567.50,294.90 C569.35,292.27 571.15,290.50 572.60,288.70 C574.05,286.90 574.82,286.32 576.20,284.10 C577.58,281.88 579.43,277.63 580.90,275.40 C582.37,273.17 584.00,271.68 585.00,270.70 C586.00,269.72 586.18,269.63 586.90,269.50 C587.62,269.37 588.05,268.75 589.30,269.90 C590.55,271.05 592.72,274.23 594.40,276.40 C596.08,278.57 597.85,281.22 599.40,282.90 C600.95,284.58 602.25,285.42 603.70,286.50 C605.15,287.58 606.77,289.40 608.10,289.40 C609.43,289.40 610.63,287.70 611.70,286.50 C612.77,285.30 613.55,283.88 614.50,282.20 C615.45,280.52 616.32,278.23 617.40,276.40 C618.48,274.57 619.90,272.43 621.00,271.20 C622.10,269.97 623.02,269.53 624.00,269.00 C624.98,268.47 625.62,267.97 626.90,268.00 C628.18,268.03 630.50,268.02 631.70,269.20 C632.90,270.38 633.40,272.72 634.10,275.10 C634.80,277.48 635.40,280.70 635.90,283.50 C636.40,286.30 636.70,289.12 637.10,291.90 C637.50,294.68 637.90,297.22 638.30,300.20 C638.70,303.18 639.08,306.50 639.50,309.80 C639.92,313.10 640.35,315.90 640.80,320.00 C641.25,324.10 641.73,329.60 642.20,334.40 C642.67,339.20 643.12,344.00 643.60,348.80 C644.08,353.60 644.62,358.40 645.10,363.20 C645.58,368.00 646.02,373.13 646.50,377.60 C646.98,382.07 647.55,386.28 648.00,390.00 C648.45,393.72 648.80,396.60 649.20,399.90 C649.60,403.20 649.95,406.52 650.40,409.80 C650.85,413.08 651.33,416.32 651.90,419.60 C652.47,422.88 653.02,426.42 653.80,429.50 C654.58,432.58 655.52,435.73 656.60,438.10 C657.68,440.47 658.87,442.33 660.30,443.70 C661.73,445.07 663.45,445.75 665.20,446.30 C666.95,446.85 669.33,446.88 670.80,447.00 C672.27,447.12 673.47,447.00 674.00,447.00" fill="none" stroke="#ffa500" stroke-width="0.75" stroke-opacity="1"/>
</g>
<g stroke="#b0b0b0" stroke-opacity="0.45" stroke-width="0.9">
<line x1="522.50" y1="258.5" x2="522.50" y2="446.8"/>
<line x1="554.20" y1="258.5" x2="554.20" y2="446.8"/>
<line x1="585.90" y1="258.5" x2="585.90" y2="446.8"/>
<line x1="617.60" y1="258.5" x2="617.60" y2="446.8"/>
<line x1="649.30" y1="258.5" x2="649.30" y2="446.8"/>
<line x1="519.5" y1="446.80" x2="678.9" y2="446.80"/>
<line x1="519.5" y1="421.60" x2="678.9" y2="421.60"/>
<line x1="519.5" y1="396.40" x2="678.9" y2="396.40"/>
<line x1="519.5" y1="371.20" x2="678.9" y2="371.20"/>
<line x1="519.5" y1="346.00" x2="678.9" y2="346.00"/>
<line x1="519.5" y1="320.80" x2="678.9" y2="320.80"/>
<line x1="519.5" y1="295.60" x2="678.9" y2="295.60"/>
<line x1="519.5" y1="270.40" x2="678.9" y2="270.40"/>
</g>
<rect x="519.5" y="258.5" width="159.40" height="188.30" fill="none" stroke="#969696" stroke-width="1.35"/>
<g stroke="#969696" stroke-width="1.35">
<line x1="522.50" y1="446.8" x2="522.50" y2="449.10"/>
<line x1="554.20" y1="446.8" x2="554.20" y2="449.10"/>
<line x1="585.90" y1="446.8" x2="585.90" y2="449.10"/>
<line x1="617.60" y1="446.8" x2="617.60" y2="449.10"/>
<line x1="649.30" y1="446.8" x2="649.30" y2="449.10"/>
<line x1="519.5" y1="446.80" x2="517.20" y2="446.80"/>
<line x1="519.5" y1="421.60" x2="517.20" y2="421.60"/>
<line x1="519.5" y1="396.40" x2="517.20" y2="396.40"/>
<line x1="519.5" y1="371.20" x2="517.20" y2="371.20"/>
<line x1="519.5" y1="346.00" x2="517.20" y2="346.00"/>
<line x1="519.5" y1="320.80" x2="517.20" y2="320.80"/>
<line x1="519.5" y1="295.60" x2="517.20" y2="295.60"/>
<line x1="519.5" y1="270.40" x2="517.20" y2="270.40"/>
</g>
<text x="522.50" y="457.10" font-size="8.14" text-anchor="middle" fill="#262626" color="#262626" textLength="16.36" lengthAdjust="spacingAndGlyphs">−10</text>
<text x="554.20" y="457.10" font-size="8.14" text-anchor="middle" fill="#262626" color="#262626" textLength="4.93" lengthAdjust="spacingAndGlyphs">0</text>
<text x="585.90" y="457.10" font-size="8.14" text-anchor="middle" fill="#262626" color="#262626" textLength="9.86" lengthAdjust="spacingAndGlyphs">10</text>
<text x="617.60" y="457.10" font-size="8.14" text-anchor="middle" fill="#262626" color="#262626" textLength="9.86" lengthAdjust="spacingAndGlyphs">20</text>
<text x="649.30" y="457.10" font-size="8.14" text-anchor="middle" fill="#262626" color="#262626" textLength="9.86" lengthAdjust="spacingAndGlyphs">30</text>
<text x="515.20" y="450.10" font-size="8.14" text-anchor="end" fill="#262626" color="#262626" textLength="22.19" lengthAdjust="spacingAndGlyphs">0.000</text>
<text x="515.20" y="424.90" font-size="8.14" text-anchor="end" fill="#262626" color="#262626" textLength="22.19" lengthAdjust="spacingAndGlyphs">0.005</text>
<text x="515.20" y="399.70" font-size="8.14" text-anchor="end" fill="#262626" color="#262626" textLength="22.19" lengthAdjust="spacingAndGlyphs">0.010</text>
<text x="515.20" y="374.50" font-size="8.14" text-anchor="end" fill="#262626" color="#262626" textLength="22.19" lengthAdjust="spacingAndGlyphs">0.015</text>
<text x="515.20" y="349.30" font-size="8.14" text-anchor="end" fill="#262626" color="#262626" textLength="22.19" lengthAdjust="spacingAndGlyphs">0.020</text>
<text x="515.20" y="324.10" font-size="8.14" text-anchor="end" fill="#262626" color="#262626" textLength="22.19" lengthAdjust="spacingAndGlyphs">0.025</text>
<text x="515.20" y="298.90" font-size="8.14" text-anchor="end" fill="#262626" color="#262626" textLength="22.19" lengthAdjust="spacingAndGlyphs">0.030</text>
<text x="515.20" y="273.70" font-size="8.14" text-anchor="end" fill="#262626" color="#262626" textLength="22.19" lengthAdjust="spacingAndGlyphs">0.035</text>
<rect x="43.3" y="17.1" width="100.50" height="11.90" rx="1.6" fill="#ffffff" fill-opacity="0.8" stroke="#d6d6d6" stroke-width="0.8"/>
<circle cx="53.3" cy="22.9" r="2.2" fill="#0000ff"/>
<text x="66.00" y="25.35" font-size="7.18" text-anchor="start" fill="#262626" color="#262626" textLength="75.03" lengthAdjust="spacingAndGlyphs">Delamination position</text>
<rect x="283.3" y="17.1" width="118.40" height="11.90" rx="1.6" fill="#ffffff" fill-opacity="0.8" stroke="#d6d6d6" stroke-width="0.8"/>
<circle cx="292.7" cy="22.9" r="2.2" fill="#008000"/>
<text x="305.40" y="25.35" font-size="7.18" text-anchor="start" fill="#262626" color="#262626" textLength="94.36" lengthAdjust="spacingAndGlyphs">Delamination layer position</text>
<rect x="522.6" y="17.1" width="74.50" height="11.90" rx="1.6" fill="#ffffff" fill-opacity="0.8" stroke="#d6d6d6" stroke-width="0.8"/>
<circle cx="532.2" cy="22.9" r="2.2" fill="#ffa500"/>
<text x="544.80" y="25.35" font-size="7.18" text-anchor="start" fill="#262626" color="#262626" textLength="48.77" lengthAdjust="spacingAndGlyphs">Crack position</text>
<rect x="56.5" y="262.3" width="140.80" height="22.00" rx="1.6" fill="#ffffff" fill-opacity="0.8" stroke="#d6d6d6" stroke-width="0.8"/>
<rect x="58.9" y="265.30" width="14.4" height="5.0" fill="#0000ff" fill-opacity="0.25" stroke="#0000ff" stroke-width="0.8"/>
<rect x="58.9" y="275.30" width="14.4" height="5.0" fill="#ffa500" fill-opacity="0.25" stroke="#ffa500" stroke-width="0.8"/>
<text x="79.00" y="269.90" font-size="7.18" text-anchor="start" fill="#262626" color="#262626" textLength="103.97" lengthAdjust="spacingAndGlyphs">Actual (Delamination position)</text>
<text x="79.00" y="279.90" font-size="7.18" text-anchor="start" fill="#262626" color="#262626" textLength="114.65" lengthAdjust="spacingAndGlyphs">Predicted (Delamination position)</text>
<rect x="276.4" y="262.3" width="159.60" height="21.50" rx="1.6" fill="#ffffff" fill-opacity="0.8" stroke="#d6d6d6" stroke-width="0.8"/>
<rect x="279.1" y="265.30" width="14.4" height="5.0" fill="#0000ff" fill-opacity="0.25" stroke="#0000ff" stroke-width="0.8"/>
<rect x="279.1" y="275.30" width="14.4" height="5.0" fill="#ffa500" fill-opacity="0.25" stroke="#ffa500" stroke-width="0.8"/>
<text x="298.90" y="269.90" font-size="7.18" text-anchor="start" fill="#262626" color="#262626" textLength="123.30" lengthAdjust="spacingAndGlyphs">Actual (Delamination layer position)</text>
<text x="298.90" y="279.90" font-size="7.18" text-anchor="start" fill="#262626" color="#262626" textLength="133.98" lengthAdjust="spacingAndGlyphs">Predicted (Delamination layer position)</text>
<rect x="562.9" y="262.3" width="112.50" height="22.00" rx="1.6" fill="#ffffff" fill-opacity="0.8" stroke="#d6d6d6" stroke-width="0.8"/>
<rect x="564.4" y="265.30" width="14.4" height="5.0" fill="#0000ff" fill-opacity="0.25" stroke="#0000ff" stroke-width="0.8"/>
<rect x="564.4" y="275.30" width="14.4" height="5.0" fill="#ffa500" fill-opacity="0.25" stroke="#ffa500" stroke-width="0.8"/>
<text x="584.00" y="269.90" font-size="7.18" text-anchor="start" fill="#262626" color="#262626" textLength="77.71" lengthAdjust="spacingAndGlyphs">Actual (Crack position)</text>
<text x="584.00" y="279.90" font-size="7.18" text-anchor="start" fill="#262626" color="#262626" textLength="88.39" lengthAdjust="spacingAndGlyphs">Predicted (Crack position)</text>
<text x="120.00" y="9.60" font-size="9.57" text-anchor="middle" fill="#262626" color="#262626" textLength="191.80" lengthAdjust="spacingAndGlyphs" style="stroke-width:0.08px">Actual vs. Predicted delamination position</text>
<text x="359.40" y="9.60" font-size="9.57" text-anchor="middle" fill="#262626" color="#262626" textLength="217.80" lengthAdjust="spacingAndGlyphs" style="stroke-width:0.08px">Actual vs. Predicted delamination layer position</text>
<text x="599.00" y="9.60" font-size="9.57" text-anchor="middle" fill="#262626" color="#262626" textLength="157.00" lengthAdjust="spacingAndGlyphs" style="stroke-width:0.08px">Actual vs. Predicted crack position</text>
<text x="119.90" y="255.30" font-size="9.57" text-anchor="middle" fill="#262626" color="#262626" textLength="199.90" lengthAdjust="spacingAndGlyphs" style="stroke-width:0.08px">Actual vs. Predicted (Delamination position)</text>
<text x="359.20" y="255.30" font-size="9.57" text-anchor="middle" fill="#262626" color="#262626" textLength="225.80" lengthAdjust="spacingAndGlyphs" style="stroke-width:0.08px">Actual vs. Predicted (Delamination layer position)</text>
<text x="598.90" y="255.30" font-size="9.57" text-anchor="middle" fill="#262626" color="#262626" textLength="165.10" lengthAdjust="spacingAndGlyphs" style="stroke-width:0.08px">Actual vs. Predicted (Crack position)</text>
<text x="47.00" y="223.60" font-size="10.71" text-anchor="start" fill="#262626" color="#262626" textLength="145.60" lengthAdjust="spacingAndGlyphs" style="stroke-width:0.15px">Actual delamination position</text>
<text x="196.20" y="223.70" font-size="10.50" text-anchor="start" fill="#262626" color="#262626" textLength="24.60" lengthAdjust="spacingAndGlyphs" style="stroke-width:0.15px">(mm)</text>
<text x="271.70" y="223.70" font-size="10.71" text-anchor="start" fill="#262626" color="#262626" textLength="175.50" lengthAdjust="spacingAndGlyphs" style="stroke-width:0.15px">Actual delamination layer position</text>
<text x="545.50" y="223.70" font-size="10.71" text-anchor="start" fill="#262626" color="#262626" textLength="106.80" lengthAdjust="spacingAndGlyphs" style="stroke-width:0.15px">Actual crack position</text>
<text x="653.50" y="223.70" font-size="10.08" text-anchor="start" fill="#262626" color="#262626" textLength="26.20" lengthAdjust="spacingAndGlyphs" style="stroke-width:0.15px">(mm)</text>
<text x="64.30" y="469.00" font-size="10.71" text-anchor="start" fill="#262626" color="#262626" textLength="111.90" lengthAdjust="spacingAndGlyphs" style="stroke-width:0.15px">Delamination position</text>
<text x="176.80" y="467.80" font-size="10.08" text-anchor="start" fill="#262626" color="#262626" textLength="26.90" lengthAdjust="spacingAndGlyphs" style="stroke-width:0.15px">(mm)</text>
<text x="288.90" y="469.00" font-size="10.71" text-anchor="start" fill="#262626" color="#262626" textLength="140.80" lengthAdjust="spacingAndGlyphs" style="stroke-width:0.15px">Delamination layer position</text>
<text x="562.40" y="469.00" font-size="10.71" text-anchor="start" fill="#262626" color="#262626" textLength="72.80" lengthAdjust="spacingAndGlyphs" style="stroke-width:0.15px">Crack position</text>
<text x="638.30" y="467.80" font-size="10.08" text-anchor="start" fill="#262626" color="#262626" textLength="26.20" lengthAdjust="spacingAndGlyphs" style="stroke-width:0.15px">(mm)</text>
<text x="21.60" y="187.70" font-size="10.71" text-anchor="start" fill="#262626" color="#262626" textLength="160.40" lengthAdjust="spacingAndGlyphs" transform="rotate(-90 21.60 187.70)" style="stroke-width:0.15px">Predicted delamination position</text>
<text x="21.60" y="25.20" font-size="10.71" text-anchor="start" fill="#262626" color="#262626" textLength="24.70" lengthAdjust="spacingAndGlyphs" transform="rotate(-90 21.60 25.20)" style="stroke-width:0.15px">(mm)</text>
<text x="266.60" y="202.00" font-size="10.71" text-anchor="start" fill="#262626" color="#262626" textLength="189.10" lengthAdjust="spacingAndGlyphs" transform="rotate(-90 266.60 202.00)" style="stroke-width:0.15px">Predicted delamination layer position</text>
<text x="501.00" y="168.10" font-size="10.71" text-anchor="start" fill="#262626" color="#262626" textLength="150.40" lengthAdjust="spacingAndGlyphs" transform="rotate(-90 501.00 168.10)" style="stroke-width:0.15px">Predicted crack position (mm)</text>
<text x="9.60" y="370.60" font-size="10.71" text-anchor="start" fill="#262626" color="#262626" textLength="37.60" lengthAdjust="spacingAndGlyphs" transform="rotate(-90 9.60 370.60)" style="stroke-width:0.15px">Density</text>
<text x="253.70" y="371.20" font-size="10.71" text-anchor="start" fill="#262626" color="#262626" textLength="37.60" lengthAdjust="spacingAndGlyphs" transform="rotate(-90 253.70 371.20)" style="stroke-width:0.15px">Density</text>
<text x="488.30" y="371.20" font-size="10.71" text-anchor="start" fill="#262626" color="#262626" textLength="37.60" lengthAdjust="spacingAndGlyphs" transform="rotate(-90 488.30 371.20)" style="stroke-width:0.15px">Density</text>
<text x="120.30" y="240.60" font-size="19" text-anchor="middle" fill="#5a2828" style="font-family:&quot;Liberation Serif&quot;,serif;stroke:none" textLength="18.80" lengthAdjust="spacingAndGlyphs">(a)</text>
<text x="359.60" y="240.60" font-size="19" text-anchor="middle" fill="#5a2828" style="font-family:&quot;Liberation Serif&quot;,serif;stroke:none" textLength="21.60" lengthAdjust="spacingAndGlyphs">(b)</text>
<text x="602.00" y="240.60" font-size="19" text-anchor="middle" fill="#5a2828" style="font-family:&quot;Liberation Serif&quot;,serif;stroke:none" textLength="19.20" lengthAdjust="spacingAndGlyphs">(c)</text>
<text x="115.15" y="483.60" font-size="19" text-anchor="middle" fill="#5a2828" style="font-family:&quot;Liberation Serif&quot;,serif;stroke:none" textLength="21.50" lengthAdjust="spacingAndGlyphs">(d)</text>
<text x="360.65" y="483.60" font-size="19" text-anchor="middle" fill="#5a2828" style="font-family:&quot;Liberation Serif&quot;,serif;stroke:none" textLength="18.30" lengthAdjust="spacingAndGlyphs">(e)</text>
<text x="602.60" y="483.60" font-size="19" text-anchor="middle" fill="#5a2828" style="font-family:&quot;Liberation Serif&quot;,serif;stroke:none" textLength="16.60" lengthAdjust="spacingAndGlyphs">(f)</text>
</svg>
</body></html>
